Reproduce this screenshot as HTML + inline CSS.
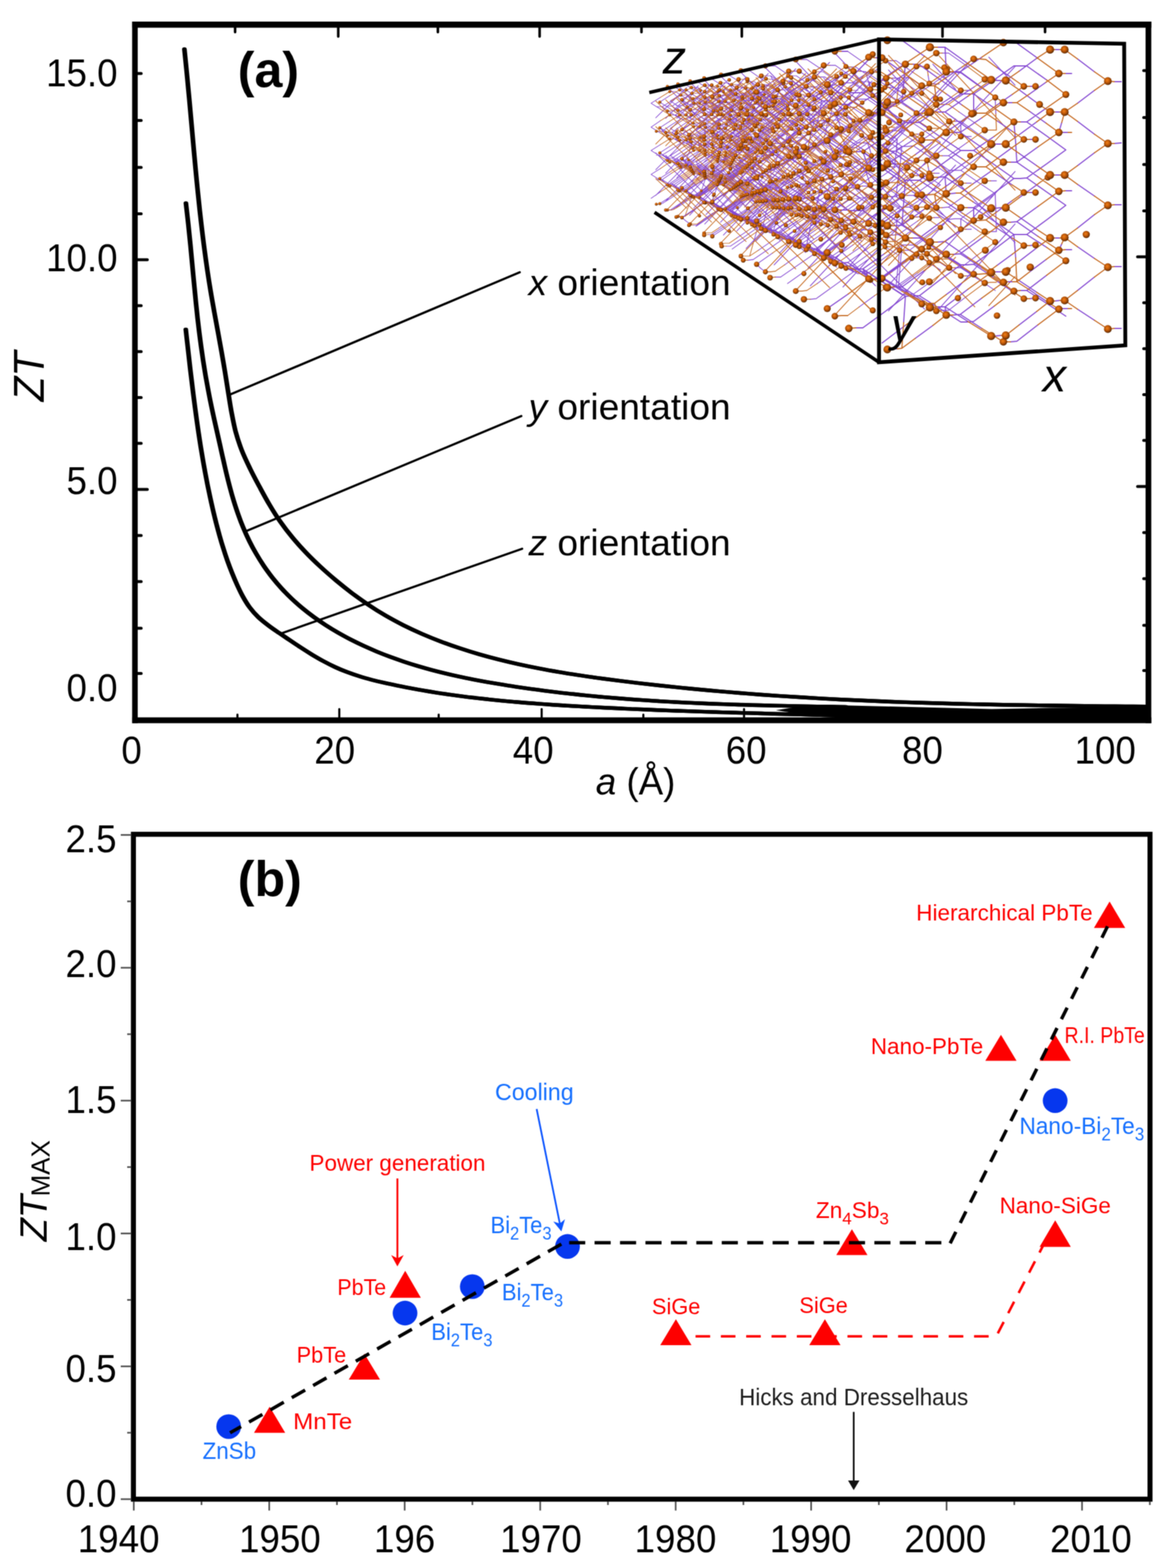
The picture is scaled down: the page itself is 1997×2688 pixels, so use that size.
<!DOCTYPE html>
<html lang="en">
<head>
<meta charset="utf-8">
<title>ZT figure</title>
<style>
html,body{margin:0;padding:0;background:#fff;}
body{width:1997px;height:2688px;overflow:hidden;}
svg{display:block;}
text{font-family:'Liberation Sans', sans-serif;}
</style>
</head>
<body>
<svg width="1997" height="2688" viewBox="0 0 1997 2688">
<defs><filter id="soft" filterUnits="userSpaceOnUse" x="0" y="0" width="1997" height="2688" color-interpolation-filters="sRGB"><feConvolveMatrix order="3" kernelMatrix="1 2 1 2 4 2 1 2 1" divisor="16" edgeMode="duplicate" preserveAlpha="true"/></filter></defs>
<g filter="url(#soft)">
<rect x="0" y="0" width="1997" height="2688" fill="#ffffff"/>
<g id="plot-a">
<g id="a-frame" fill="none" stroke="#000000">
<line x1="231.3" y1="36.9" x2="231.3" y2="1239.8" stroke-width="9.6"/>
<line x1="1968.6" y1="36.9" x2="1968.6" y2="1239.8" stroke-width="9.8"/>
<line x1="226.8" y1="42.2" x2="1973.5" y2="42.2" stroke-width="10.6"/>
<line x1="226.8" y1="1234.8" x2="1973.5" y2="1234.8" stroke-width="10"/>
</g>
<g id="a-ticks" stroke="#000000" stroke-width="5" stroke-linecap="round">
<line x1="231.3" y1="126.0" x2="242.0" y2="126.0"/>
<line x1="1968.6" y1="121.0" x2="1960.5" y2="121.0"/>
<line x1="231.3" y1="206.5" x2="242.0" y2="206.5"/>
<line x1="1968.6" y1="201.5" x2="1960.5" y2="201.5"/>
<line x1="231.3" y1="287.0" x2="242.0" y2="287.0"/>
<line x1="1968.6" y1="282.0" x2="1960.5" y2="282.0"/>
<line x1="231.3" y1="366.6" x2="242.0" y2="366.6"/>
<line x1="1968.6" y1="361.6" x2="1960.5" y2="361.6"/>
<line x1="231.3" y1="445.3" x2="252.5" y2="445.3"/>
<line x1="1968.6" y1="440.3" x2="1950.0" y2="440.3"/>
<line x1="231.3" y1="524.0" x2="242.0" y2="524.0"/>
<line x1="1968.6" y1="519.0" x2="1960.5" y2="519.0"/>
<line x1="231.3" y1="602.7" x2="242.0" y2="602.7"/>
<line x1="1968.6" y1="597.7" x2="1960.5" y2="597.7"/>
<line x1="231.3" y1="681.5" x2="242.0" y2="681.5"/>
<line x1="1968.6" y1="676.5" x2="1960.5" y2="676.5"/>
<line x1="231.3" y1="760.0" x2="242.0" y2="760.0"/>
<line x1="1968.6" y1="755.0" x2="1960.5" y2="755.0"/>
<line x1="231.3" y1="839.0" x2="252.5" y2="839.0"/>
<line x1="1968.6" y1="834.0" x2="1950.0" y2="834.0"/>
<line x1="231.3" y1="918.0" x2="242.0" y2="918.0"/>
<line x1="1968.6" y1="913.0" x2="1960.5" y2="913.0"/>
<line x1="231.3" y1="997.0" x2="242.0" y2="997.0"/>
<line x1="1968.6" y1="992.0" x2="1960.5" y2="992.0"/>
<line x1="231.3" y1="1077.0" x2="242.0" y2="1077.0"/>
<line x1="1968.6" y1="1072.0" x2="1960.5" y2="1072.0"/>
<line x1="231.3" y1="1154.5" x2="242.0" y2="1154.5"/>
<line x1="1968.6" y1="1149.5" x2="1960.5" y2="1149.5"/>
<line x1="403.0" y1="42.2" x2="403.0" y2="55.0" stroke-width="4.4"/>
<line x1="407.0" y1="1234.8" x2="407.0" y2="1225.0" stroke-width="3.6"/>
<line x1="579.8" y1="42.2" x2="579.8" y2="62.5" stroke-width="4.4"/>
<line x1="581.6" y1="1234.8" x2="581.6" y2="1215.5" stroke-width="3.6"/>
<line x1="750.6" y1="42.2" x2="750.6" y2="55.0" stroke-width="4.4"/>
<line x1="752.0" y1="1234.8" x2="752.0" y2="1225.0" stroke-width="3.6"/>
<line x1="925.0" y1="42.2" x2="925.0" y2="62.5" stroke-width="4.4"/>
<line x1="928.5" y1="1234.8" x2="928.5" y2="1215.5" stroke-width="3.6"/>
<line x1="1099.6" y1="42.2" x2="1099.6" y2="55.0" stroke-width="4.4"/>
<line x1="1102.8" y1="1234.8" x2="1102.8" y2="1225.0" stroke-width="3.6"/>
<line x1="1271.6" y1="42.2" x2="1271.6" y2="62.5" stroke-width="4.4"/>
<line x1="1275.4" y1="1234.8" x2="1275.4" y2="1215.5" stroke-width="3.6"/>
<line x1="1446.6" y1="42.2" x2="1446.6" y2="55.0" stroke-width="4.4"/>
<line x1="1449.0" y1="1234.8" x2="1449.0" y2="1225.0" stroke-width="3.6"/>
<line x1="1615.6" y1="42.2" x2="1615.6" y2="62.5" stroke-width="4.4"/>
<line x1="1620.0" y1="1234.8" x2="1620.0" y2="1215.5" stroke-width="3.6"/>
<line x1="1791.4" y1="42.2" x2="1791.4" y2="55.0" stroke-width="4.4"/>
<line x1="1794.0" y1="1234.8" x2="1794.0" y2="1225.0" stroke-width="3.6"/>
</g>
<g id="a-labels" font-size="63" fill="#000000">
<text transform="translate(201.5 148.0) scale(1 1.065)" text-anchor="end">15.0</text>
<text transform="translate(201.5 464.6) scale(1 1.065)" text-anchor="end">10.0</text>
<text transform="translate(201.5 846.6) scale(1 1.065)" text-anchor="end">5.0</text>
<text transform="translate(201.5 1202.2) scale(1 1.065)" text-anchor="end">0.0</text>
<text transform="translate(225.5 1308.7) scale(1 1.065)" text-anchor="middle">0</text>
<text transform="translate(573.8 1308.7) scale(1 1.065)" text-anchor="middle">20</text>
<text transform="translate(914.0 1308.7) scale(1 1.065)" text-anchor="middle">40</text>
<text transform="translate(1279.0 1308.7) scale(1 1.065)" text-anchor="middle">60</text>
<text transform="translate(1581.3 1308.7) scale(1 1.065)" text-anchor="middle">80</text>
<text transform="translate(1894.5 1308.7) scale(1 1.065)" text-anchor="middle">100</text>
<text transform="translate(1089.5 1362.3) scale(1 1.020)" text-anchor="middle"><tspan font-style="italic">a</tspan> (Å)</text>
<text transform="translate(75.4 645.5) rotate(-90) scale(1 1.065)" text-anchor="middle" font-style="italic" font-size="70">ZT</text>
<text transform="translate(906.0 506.2) scale(1 0.985)" font-size="63.6"><tspan font-style="italic">x</tspan> orientation</text>
<text transform="translate(906.0 718.7) scale(1 0.985)" font-size="63.6"><tspan font-style="italic">y</tspan> orientation</text>
<text transform="translate(906.0 951.6) scale(1 0.985)" font-size="63.6"><tspan font-style="italic">z</tspan> orientation</text>
<text transform="translate(407.5 149.0) scale(1 1.000)" font-weight="bold" font-size="86">(a)</text>
</g>
<g id="a-curves" fill="none" stroke="#000000" stroke-width="6.4" stroke-linecap="round" stroke-linejoin="round">
<path d="M316.1 84.4 C316.6 90.2 318.5 107.5 319.6 119.0 C320.8 130.5 321.8 142.1 322.9 153.6 C324.0 165.2 325.1 176.7 326.1 188.3 C327.1 199.8 328.2 211.4 329.2 222.9 C330.2 234.5 331.3 246.1 332.3 257.6 C333.4 269.2 334.4 280.8 335.5 292.3 C336.6 303.9 337.7 315.4 338.9 327.0 C340.1 338.5 341.3 350.1 342.5 361.6 C343.8 373.1 345.1 384.7 346.5 396.2 C347.9 407.7 349.3 419.2 350.9 430.7 C352.4 442.2 354.0 453.6 355.7 465.1 C357.4 476.6 359.2 488.0 361.1 499.4 C363.0 510.9 365.1 522.3 367.1 533.7 C369.2 545.1 371.3 556.5 373.4 567.9 C375.5 579.3 377.6 590.7 379.6 602.1 C381.6 613.6 383.6 625.0 385.5 636.5 C387.4 648.0 389.1 659.5 391.0 670.9 C392.8 682.4 394.5 693.9 396.6 705.3 C398.8 716.7 400.8 728.1 403.7 739.2 C406.7 750.3 410.3 761.2 414.4 771.9 C418.6 782.7 423.7 793.1 428.8 803.6 C433.8 814.0 439.4 824.3 444.9 834.6 C450.4 844.8 455.9 855.2 461.9 865.1 C467.8 875.1 473.9 885.0 480.6 894.4 C487.2 903.9 494.3 913.1 501.7 921.9 C509.1 930.8 516.9 939.4 524.9 947.7 C532.9 956.1 541.3 964.1 549.8 972.0 C558.3 979.9 567.1 987.5 576.0 995.0 C584.9 1002.4 594.0 1009.7 603.2 1016.7 C612.5 1023.6 621.9 1030.4 631.6 1036.8 C641.2 1043.3 651.0 1049.5 661.0 1055.3 C671.0 1061.1 681.3 1066.6 691.6 1071.9 C702.0 1077.1 712.6 1082.0 723.2 1086.6 C733.8 1091.2 744.6 1095.6 755.5 1099.7 C766.3 1103.8 777.3 1107.7 788.3 1111.3 C799.3 1115.0 810.3 1118.4 821.5 1121.6 C832.6 1124.8 843.7 1127.8 855.0 1130.7 C866.2 1133.5 877.5 1136.2 888.8 1138.7 C900.1 1141.2 911.4 1143.5 922.8 1145.7 C934.2 1147.9 945.6 1150.0 957.1 1151.9 C968.5 1153.9 980.0 1155.7 991.5 1157.4 C1002.9 1159.2 1014.5 1160.8 1026.0 1162.4 C1037.5 1164.0 1049.0 1165.4 1060.6 1166.9 C1072.1 1168.3 1083.6 1169.7 1095.2 1171.1 C1106.7 1172.4 1118.2 1173.7 1129.8 1175.0 C1141.3 1176.2 1152.8 1177.4 1164.4 1178.6 C1175.9 1179.8 1187.5 1180.9 1199.0 1182.0 C1210.5 1183.1 1222.1 1184.1 1233.6 1185.1 C1245.2 1186.1 1256.7 1187.1 1268.3 1188.0 C1279.8 1188.9 1291.4 1189.8 1302.9 1190.7 C1314.5 1191.5 1326.1 1192.3 1337.6 1193.1 C1349.2 1193.9 1360.8 1194.6 1372.3 1195.3 C1383.9 1196.1 1395.5 1196.7 1407.0 1197.4 C1418.6 1198.0 1430.2 1198.6 1441.8 1199.2 C1453.3 1199.8 1464.9 1200.3 1476.5 1200.8 C1488.1 1201.4 1499.7 1201.9 1511.3 1202.3 C1522.9 1202.8 1534.4 1203.2 1546.0 1203.6 C1557.6 1204.0 1569.2 1204.4 1580.8 1204.8 C1592.4 1205.2 1604.0 1205.5 1615.6 1205.8 C1627.2 1206.1 1638.8 1206.4 1650.4 1206.7 C1662.0 1207.0 1673.7 1207.3 1685.3 1207.5 C1696.9 1207.8 1708.5 1208.0 1720.1 1208.2 C1731.7 1208.4 1743.3 1208.6 1754.9 1208.8 C1766.5 1209.0 1778.1 1209.2 1789.7 1209.3 C1801.3 1209.5 1812.9 1209.6 1824.5 1209.8 C1836.1 1209.9 1847.7 1210.1 1859.3 1210.2 C1870.9 1210.3 1882.5 1210.4 1894.1 1210.6 C1905.7 1210.7 1917.2 1210.8 1928.8 1210.9 C1940.4 1211.0 1957.8 1211.2 1963.6 1211.2" transform="translate(-0.8 0)"/>
<path d="M316.1 84.4 C316.6 90.2 318.5 107.5 319.6 119.0 C320.8 130.5 321.8 142.1 322.9 153.6 C324.0 165.2 325.1 176.7 326.1 188.3 C327.1 199.8 328.2 211.4 329.2 222.9 C330.2 234.5 331.3 246.1 332.3 257.6 C333.4 269.2 334.4 280.8 335.5 292.3 C336.6 303.9 337.7 315.4 338.9 327.0 C340.1 338.5 341.3 350.1 342.5 361.6 C343.8 373.1 345.1 384.7 346.5 396.2 C347.9 407.7 349.3 419.2 350.9 430.7 C352.4 442.2 354.0 453.6 355.7 465.1 C357.4 476.6 359.2 488.0 361.1 499.4 C363.0 510.9 365.1 522.3 367.1 533.7 C369.2 545.1 371.3 556.5 373.4 567.9 C375.5 579.3 377.6 590.7 379.6 602.1 C381.6 613.6 383.6 625.0 385.5 636.5 C387.4 648.0 389.1 659.5 391.0 670.9 C392.8 682.4 394.5 693.9 396.6 705.3 C398.8 716.7 400.8 728.1 403.7 739.2 C406.7 750.3 410.3 761.2 414.4 771.9 C418.6 782.7 423.7 793.1 428.8 803.6 C433.8 814.0 439.4 824.3 444.9 834.6 C450.4 844.8 455.9 855.2 461.9 865.1 C467.8 875.1 473.9 885.0 480.6 894.4 C487.2 903.9 494.3 913.1 501.7 921.9 C509.1 930.8 516.9 939.4 524.9 947.7 C532.9 956.1 541.3 964.1 549.8 972.0 C558.3 979.9 567.1 987.5 576.0 995.0 C584.9 1002.4 594.0 1009.7 603.2 1016.7 C612.5 1023.6 621.9 1030.4 631.6 1036.8 C641.2 1043.3 651.0 1049.5 661.0 1055.3 C671.0 1061.1 681.3 1066.6 691.6 1071.9 C702.0 1077.1 712.6 1082.0 723.2 1086.6 C733.8 1091.2 744.6 1095.6 755.5 1099.7 C766.3 1103.8 777.3 1107.7 788.3 1111.3 C799.3 1115.0 810.3 1118.4 821.5 1121.6 C832.6 1124.8 843.7 1127.8 855.0 1130.7 C866.2 1133.5 877.5 1136.2 888.8 1138.7 C900.1 1141.2 911.4 1143.5 922.8 1145.7 C934.2 1147.9 945.6 1150.0 957.1 1151.9 C968.5 1153.9 980.0 1155.7 991.5 1157.4 C1002.9 1159.2 1014.5 1160.8 1026.0 1162.4 C1037.5 1164.0 1049.0 1165.4 1060.6 1166.9 C1072.1 1168.3 1083.6 1169.7 1095.2 1171.1 C1106.7 1172.4 1118.2 1173.7 1129.8 1175.0 C1141.3 1176.2 1152.8 1177.4 1164.4 1178.6 C1175.9 1179.8 1187.5 1180.9 1199.0 1182.0 C1210.5 1183.1 1222.1 1184.1 1233.6 1185.1 C1245.2 1186.1 1256.7 1187.1 1268.3 1188.0 C1279.8 1188.9 1291.4 1189.8 1302.9 1190.7 C1314.5 1191.5 1326.1 1192.3 1337.6 1193.1 C1349.2 1193.9 1360.8 1194.6 1372.3 1195.3 C1383.9 1196.1 1395.5 1196.7 1407.0 1197.4 C1418.6 1198.0 1430.2 1198.6 1441.8 1199.2 C1453.3 1199.8 1464.9 1200.3 1476.5 1200.8 C1488.1 1201.4 1499.7 1201.9 1511.3 1202.3 C1522.9 1202.8 1534.4 1203.2 1546.0 1203.6 C1557.6 1204.0 1569.2 1204.4 1580.8 1204.8 C1592.4 1205.2 1604.0 1205.5 1615.6 1205.8 C1627.2 1206.1 1638.8 1206.4 1650.4 1206.7 C1662.0 1207.0 1673.7 1207.3 1685.3 1207.5 C1696.9 1207.8 1708.5 1208.0 1720.1 1208.2 C1731.7 1208.4 1743.3 1208.6 1754.9 1208.8 C1766.5 1209.0 1778.1 1209.2 1789.7 1209.3 C1801.3 1209.5 1812.9 1209.6 1824.5 1209.8 C1836.1 1209.9 1847.7 1210.1 1859.3 1210.2 C1870.9 1210.3 1882.5 1210.4 1894.1 1210.6 C1905.7 1210.7 1917.2 1210.8 1928.8 1210.9 C1940.4 1211.0 1957.8 1211.2 1963.6 1211.2" transform="translate(0.8 0)"/>
<path d="M318.7 348.4 C319.1 352.5 320.6 364.7 321.5 372.9 C322.4 381.0 323.3 389.2 324.1 397.3 C325.0 405.5 325.8 413.7 326.6 421.9 C327.4 430.1 328.1 438.3 328.9 446.5 C329.7 454.6 330.4 462.8 331.2 471.0 C332.0 479.2 332.8 487.4 333.6 495.6 C334.4 503.8 335.2 512.0 336.0 520.2 C336.9 528.4 337.7 536.6 338.6 544.8 C339.6 552.9 340.5 561.1 341.5 569.3 C342.5 577.4 343.6 585.6 344.7 593.7 C345.8 601.8 347.0 609.9 348.2 618.0 C349.5 626.2 350.8 634.2 352.1 642.3 C353.5 650.4 355.0 658.5 356.5 666.5 C358.0 674.6 359.5 682.6 361.2 690.7 C362.8 698.7 364.6 706.7 366.3 714.7 C368.1 722.7 369.9 730.7 371.7 738.8 C373.5 746.8 375.3 754.8 377.1 762.8 C378.9 770.9 380.6 779.0 382.5 787.0 C384.3 795.0 386.1 803.1 388.0 811.1 C389.9 819.1 391.9 827.1 394.0 835.0 C396.1 843.0 398.3 850.9 400.7 858.8 C403.1 866.6 405.6 874.4 408.4 882.1 C411.1 889.9 414.0 897.5 417.2 905.1 C420.3 912.6 423.7 920.1 427.4 927.5 C431.0 934.8 434.9 942.1 439.1 949.2 C443.2 956.3 447.6 963.3 452.2 970.1 C456.8 976.9 461.7 983.5 466.7 990.0 C471.8 996.4 477.1 1002.7 482.7 1008.7 C488.2 1014.8 494.0 1020.6 499.9 1026.2 C505.9 1031.9 512.0 1037.3 518.3 1042.5 C524.7 1047.8 531.2 1052.8 537.8 1057.6 C544.5 1062.5 551.3 1067.1 558.2 1071.6 C565.2 1076.1 572.2 1080.4 579.4 1084.5 C586.6 1088.6 593.8 1092.6 601.2 1096.4 C608.5 1100.1 615.9 1103.7 623.4 1107.2 C630.9 1110.6 638.4 1113.9 646.0 1117.1 C653.6 1120.2 661.3 1123.2 668.9 1126.1 C676.6 1128.9 684.4 1131.6 692.1 1134.2 C699.9 1136.8 707.7 1139.3 715.6 1141.6 C723.5 1143.9 731.4 1146.2 739.3 1148.3 C747.2 1150.4 755.2 1152.4 763.2 1154.3 C771.2 1156.3 779.2 1158.1 787.2 1159.8 C795.3 1161.6 803.3 1163.2 811.4 1164.8 C819.5 1166.4 827.6 1167.9 835.7 1169.3 C843.8 1170.7 851.9 1172.1 860.1 1173.4 C868.2 1174.8 876.3 1176.0 884.5 1177.3 C892.6 1178.5 900.7 1179.7 908.9 1180.8 C917.0 1181.9 925.2 1183.0 933.3 1184.1 C941.5 1185.1 949.6 1186.1 957.8 1187.1 C966.0 1188.0 974.1 1189.0 982.3 1189.8 C990.5 1190.7 998.6 1191.6 1006.8 1192.4 C1015.0 1193.2 1023.2 1194.0 1031.3 1194.7 C1039.5 1195.4 1047.7 1196.1 1055.9 1196.8 C1064.1 1197.5 1072.3 1198.1 1080.5 1198.7 C1088.7 1199.3 1096.9 1199.9 1105.0 1200.4 C1113.2 1201.0 1121.4 1201.5 1129.6 1202.0 C1137.8 1202.5 1146.0 1202.9 1154.3 1203.4 C1162.5 1203.8 1170.7 1204.2 1178.9 1204.6 C1187.1 1205.0 1195.3 1205.4 1203.5 1205.7 C1211.7 1206.1 1219.9 1206.4 1228.1 1206.7 C1236.3 1207.0 1244.6 1207.3 1252.8 1207.6 C1261.0 1207.8 1269.2 1208.1 1277.4 1208.3 C1285.6 1208.6 1293.9 1208.8 1302.1 1209.0 C1310.3 1209.2 1318.5 1209.4 1326.7 1209.6 C1335.0 1209.8 1343.2 1210.0 1351.4 1210.1 C1359.6 1210.3 1367.8 1210.5 1376.1 1210.6 C1384.3 1210.8 1392.5 1210.9 1400.7 1211.1 C1408.9 1211.2 1417.1 1211.3 1425.4 1211.5 C1433.6 1211.6 1445.9 1211.8 1450.0 1211.9" transform="translate(-0.8 0)"/>
<path d="M318.7 348.4 C319.1 352.5 320.6 364.7 321.5 372.9 C322.4 381.0 323.3 389.2 324.1 397.3 C325.0 405.5 325.8 413.7 326.6 421.9 C327.4 430.1 328.1 438.3 328.9 446.5 C329.7 454.6 330.4 462.8 331.2 471.0 C332.0 479.2 332.8 487.4 333.6 495.6 C334.4 503.8 335.2 512.0 336.0 520.2 C336.9 528.4 337.7 536.6 338.6 544.8 C339.6 552.9 340.5 561.1 341.5 569.3 C342.5 577.4 343.6 585.6 344.7 593.7 C345.8 601.8 347.0 609.9 348.2 618.0 C349.5 626.2 350.8 634.2 352.1 642.3 C353.5 650.4 355.0 658.5 356.5 666.5 C358.0 674.6 359.5 682.6 361.2 690.7 C362.8 698.7 364.6 706.7 366.3 714.7 C368.1 722.7 369.9 730.7 371.7 738.8 C373.5 746.8 375.3 754.8 377.1 762.8 C378.9 770.9 380.6 779.0 382.5 787.0 C384.3 795.0 386.1 803.1 388.0 811.1 C389.9 819.1 391.9 827.1 394.0 835.0 C396.1 843.0 398.3 850.9 400.7 858.8 C403.1 866.6 405.6 874.4 408.4 882.1 C411.1 889.9 414.0 897.5 417.2 905.1 C420.3 912.6 423.7 920.1 427.4 927.5 C431.0 934.8 434.9 942.1 439.1 949.2 C443.2 956.3 447.6 963.3 452.2 970.1 C456.8 976.9 461.7 983.5 466.7 990.0 C471.8 996.4 477.1 1002.7 482.7 1008.7 C488.2 1014.8 494.0 1020.6 499.9 1026.2 C505.9 1031.9 512.0 1037.3 518.3 1042.5 C524.7 1047.8 531.2 1052.8 537.8 1057.6 C544.5 1062.5 551.3 1067.1 558.2 1071.6 C565.2 1076.1 572.2 1080.4 579.4 1084.5 C586.6 1088.6 593.8 1092.6 601.2 1096.4 C608.5 1100.1 615.9 1103.7 623.4 1107.2 C630.9 1110.6 638.4 1113.9 646.0 1117.1 C653.6 1120.2 661.3 1123.2 668.9 1126.1 C676.6 1128.9 684.4 1131.6 692.1 1134.2 C699.9 1136.8 707.7 1139.3 715.6 1141.6 C723.5 1143.9 731.4 1146.2 739.3 1148.3 C747.2 1150.4 755.2 1152.4 763.2 1154.3 C771.2 1156.3 779.2 1158.1 787.2 1159.8 C795.3 1161.6 803.3 1163.2 811.4 1164.8 C819.5 1166.4 827.6 1167.9 835.7 1169.3 C843.8 1170.7 851.9 1172.1 860.1 1173.4 C868.2 1174.8 876.3 1176.0 884.5 1177.3 C892.6 1178.5 900.7 1179.7 908.9 1180.8 C917.0 1181.9 925.2 1183.0 933.3 1184.1 C941.5 1185.1 949.6 1186.1 957.8 1187.1 C966.0 1188.0 974.1 1189.0 982.3 1189.8 C990.5 1190.7 998.6 1191.6 1006.8 1192.4 C1015.0 1193.2 1023.2 1194.0 1031.3 1194.7 C1039.5 1195.4 1047.7 1196.1 1055.9 1196.8 C1064.1 1197.5 1072.3 1198.1 1080.5 1198.7 C1088.7 1199.3 1096.9 1199.9 1105.0 1200.4 C1113.2 1201.0 1121.4 1201.5 1129.6 1202.0 C1137.8 1202.5 1146.0 1202.9 1154.3 1203.4 C1162.5 1203.8 1170.7 1204.2 1178.9 1204.6 C1187.1 1205.0 1195.3 1205.4 1203.5 1205.7 C1211.7 1206.1 1219.9 1206.4 1228.1 1206.7 C1236.3 1207.0 1244.6 1207.3 1252.8 1207.6 C1261.0 1207.8 1269.2 1208.1 1277.4 1208.3 C1285.6 1208.6 1293.9 1208.8 1302.1 1209.0 C1310.3 1209.2 1318.5 1209.4 1326.7 1209.6 C1335.0 1209.8 1343.2 1210.0 1351.4 1210.1 C1359.6 1210.3 1367.8 1210.5 1376.1 1210.6 C1384.3 1210.8 1392.5 1210.9 1400.7 1211.1 C1408.9 1211.2 1417.1 1211.3 1425.4 1211.5 C1433.6 1211.6 1445.9 1211.8 1450.0 1211.9" transform="translate(0.8 0)"/>
<path d="M318.5 565.0 C318.9 568.7 320.1 579.9 321.0 587.3 C321.8 594.7 322.6 602.1 323.5 609.5 C324.3 616.9 325.2 624.4 326.0 631.8 C326.9 639.2 327.8 646.6 328.7 654.0 C329.6 661.4 330.5 668.8 331.4 676.2 C332.3 683.6 333.3 691.0 334.3 698.4 C335.3 705.8 336.3 713.2 337.3 720.6 C338.3 728.0 339.4 735.4 340.5 742.8 C341.6 750.2 342.7 757.5 343.9 764.9 C345.1 772.3 346.3 779.6 347.6 787.0 C348.8 794.3 350.2 801.7 351.5 809.0 C352.9 816.3 354.3 823.6 355.7 831.0 C357.2 838.3 358.7 845.6 360.3 852.9 C361.9 860.2 363.5 867.4 365.2 874.7 C366.9 882.0 368.7 889.2 370.5 896.5 C372.4 903.7 374.3 911.0 376.3 918.1 C378.3 925.3 380.4 932.5 382.7 939.6 C384.9 946.8 387.2 953.8 389.7 960.9 C392.2 967.9 394.8 974.9 397.6 981.8 C400.4 988.8 403.3 995.7 406.4 1002.5 C409.5 1009.3 412.7 1016.1 416.3 1022.6 C419.9 1029.1 423.7 1035.5 428.1 1041.4 C432.5 1047.3 437.4 1052.8 442.7 1057.9 C448.0 1063.0 454.0 1067.6 460.0 1072.1 C465.9 1076.7 472.3 1080.9 478.6 1085.2 C484.8 1089.4 491.1 1093.7 497.4 1097.9 C503.6 1102.1 509.9 1106.3 516.2 1110.4 C522.5 1114.5 528.8 1118.5 535.2 1122.4 C541.6 1126.2 548.0 1130.0 554.5 1133.5 C561.0 1137.0 567.6 1140.4 574.3 1143.5 C581.0 1146.6 587.9 1149.5 594.8 1152.1 C601.7 1154.7 608.8 1157.1 615.9 1159.3 C623.0 1161.6 630.2 1163.6 637.4 1165.5 C644.7 1167.4 652.0 1169.1 659.3 1170.7 C666.6 1172.4 673.9 1173.9 681.3 1175.4 C688.6 1176.9 696.0 1178.4 703.4 1179.7 C710.7 1181.1 718.1 1182.4 725.4 1183.7 C732.8 1185.0 740.2 1186.2 747.6 1187.3 C755.0 1188.5 762.3 1189.6 769.7 1190.6 C777.1 1191.7 784.5 1192.7 791.9 1193.6 C799.3 1194.6 806.7 1195.5 814.1 1196.3 C821.5 1197.2 828.9 1198.0 836.4 1198.8 C843.8 1199.6 851.2 1200.4 858.6 1201.1 C866.0 1201.8 873.5 1202.5 880.9 1203.1 C888.3 1203.8 895.7 1204.4 903.2 1205.0 C910.6 1205.5 918.1 1206.1 925.5 1206.6 C932.9 1207.2 940.4 1207.7 947.8 1208.2 C955.3 1208.7 962.7 1209.1 970.1 1209.6 C977.6 1210.0 985.0 1210.5 992.5 1210.9 C999.9 1211.3 1007.4 1211.7 1014.8 1212.1 C1022.3 1212.5 1029.8 1212.9 1037.2 1213.3 C1044.7 1213.6 1052.1 1214.0 1059.6 1214.3 C1067.0 1214.7 1074.5 1215.0 1081.9 1215.4 C1089.4 1215.7 1096.9 1216.0 1104.3 1216.3 C1111.8 1216.6 1119.2 1216.9 1126.7 1217.2 C1134.1 1217.5 1141.6 1217.8 1149.1 1218.1 C1156.5 1218.3 1164.0 1218.6 1171.4 1218.9 C1178.9 1219.1 1186.4 1219.4 1193.8 1219.6 C1201.3 1219.9 1208.8 1220.1 1216.2 1220.4 C1223.7 1220.6 1231.1 1220.8 1238.6 1221.1 C1246.1 1221.3 1253.5 1221.5 1261.0 1221.7 C1268.5 1222.0 1275.9 1222.2 1283.4 1222.4 C1290.8 1222.6 1298.3 1222.8 1305.8 1223.0 C1313.2 1223.2 1320.7 1223.5 1328.1 1223.7 C1335.6 1223.9 1343.1 1224.1 1350.5 1224.3 C1358.0 1224.5 1365.4 1224.7 1372.9 1224.9 C1380.3 1225.1 1387.8 1225.3 1395.3 1225.5 C1402.7 1225.7 1410.2 1225.9 1417.6 1226.1 C1425.1 1226.4 1436.3 1226.7 1440.0 1226.8" transform="translate(-0.8 0)"/>
<path d="M318.5 565.0 C318.9 568.7 320.1 579.9 321.0 587.3 C321.8 594.7 322.6 602.1 323.5 609.5 C324.3 616.9 325.2 624.4 326.0 631.8 C326.9 639.2 327.8 646.6 328.7 654.0 C329.6 661.4 330.5 668.8 331.4 676.2 C332.3 683.6 333.3 691.0 334.3 698.4 C335.3 705.8 336.3 713.2 337.3 720.6 C338.3 728.0 339.4 735.4 340.5 742.8 C341.6 750.2 342.7 757.5 343.9 764.9 C345.1 772.3 346.3 779.6 347.6 787.0 C348.8 794.3 350.2 801.7 351.5 809.0 C352.9 816.3 354.3 823.6 355.7 831.0 C357.2 838.3 358.7 845.6 360.3 852.9 C361.9 860.2 363.5 867.4 365.2 874.7 C366.9 882.0 368.7 889.2 370.5 896.5 C372.4 903.7 374.3 911.0 376.3 918.1 C378.3 925.3 380.4 932.5 382.7 939.6 C384.9 946.8 387.2 953.8 389.7 960.9 C392.2 967.9 394.8 974.9 397.6 981.8 C400.4 988.8 403.3 995.7 406.4 1002.5 C409.5 1009.3 412.7 1016.1 416.3 1022.6 C419.9 1029.1 423.7 1035.5 428.1 1041.4 C432.5 1047.3 437.4 1052.8 442.7 1057.9 C448.0 1063.0 454.0 1067.6 460.0 1072.1 C465.9 1076.7 472.3 1080.9 478.6 1085.2 C484.8 1089.4 491.1 1093.7 497.4 1097.9 C503.6 1102.1 509.9 1106.3 516.2 1110.4 C522.5 1114.5 528.8 1118.5 535.2 1122.4 C541.6 1126.2 548.0 1130.0 554.5 1133.5 C561.0 1137.0 567.6 1140.4 574.3 1143.5 C581.0 1146.6 587.9 1149.5 594.8 1152.1 C601.7 1154.7 608.8 1157.1 615.9 1159.3 C623.0 1161.6 630.2 1163.6 637.4 1165.5 C644.7 1167.4 652.0 1169.1 659.3 1170.7 C666.6 1172.4 673.9 1173.9 681.3 1175.4 C688.6 1176.9 696.0 1178.4 703.4 1179.7 C710.7 1181.1 718.1 1182.4 725.4 1183.7 C732.8 1185.0 740.2 1186.2 747.6 1187.3 C755.0 1188.5 762.3 1189.6 769.7 1190.6 C777.1 1191.7 784.5 1192.7 791.9 1193.6 C799.3 1194.6 806.7 1195.5 814.1 1196.3 C821.5 1197.2 828.9 1198.0 836.4 1198.8 C843.8 1199.6 851.2 1200.4 858.6 1201.1 C866.0 1201.8 873.5 1202.5 880.9 1203.1 C888.3 1203.8 895.7 1204.4 903.2 1205.0 C910.6 1205.5 918.1 1206.1 925.5 1206.6 C932.9 1207.2 940.4 1207.7 947.8 1208.2 C955.3 1208.7 962.7 1209.1 970.1 1209.6 C977.6 1210.0 985.0 1210.5 992.5 1210.9 C999.9 1211.3 1007.4 1211.7 1014.8 1212.1 C1022.3 1212.5 1029.8 1212.9 1037.2 1213.3 C1044.7 1213.6 1052.1 1214.0 1059.6 1214.3 C1067.0 1214.7 1074.5 1215.0 1081.9 1215.4 C1089.4 1215.7 1096.9 1216.0 1104.3 1216.3 C1111.8 1216.6 1119.2 1216.9 1126.7 1217.2 C1134.1 1217.5 1141.6 1217.8 1149.1 1218.1 C1156.5 1218.3 1164.0 1218.6 1171.4 1218.9 C1178.9 1219.1 1186.4 1219.4 1193.8 1219.6 C1201.3 1219.9 1208.8 1220.1 1216.2 1220.4 C1223.7 1220.6 1231.1 1220.8 1238.6 1221.1 C1246.1 1221.3 1253.5 1221.5 1261.0 1221.7 C1268.5 1222.0 1275.9 1222.2 1283.4 1222.4 C1290.8 1222.6 1298.3 1222.8 1305.8 1223.0 C1313.2 1223.2 1320.7 1223.5 1328.1 1223.7 C1335.6 1223.9 1343.1 1224.1 1350.5 1224.3 C1358.0 1224.5 1365.4 1224.7 1372.9 1224.9 C1380.3 1225.1 1387.8 1225.3 1395.3 1225.5 C1402.7 1225.7 1410.2 1225.9 1417.6 1226.1 C1425.1 1226.4 1436.3 1226.7 1440.0 1226.8" transform="translate(0.8 0)"/>
</g>
<path d="M1330 1217.5 L1362 1212.5 L1400 1208 L1542 1211.5 L1700 1215.5 L1800 1213.5 L1968 1212 L1968 1236 L1440 1236 L1440 1230 L1405 1229 L1362 1222.5 Z" fill="#000000"/>
<g id="a-leaders" stroke="#000000" stroke-width="3.8" stroke-linecap="round">
<line x1="394" y1="676.6" x2="890.9" y2="466.7"/>
<line x1="419.5" y1="911.5" x2="893.6" y2="713.3"/>
<line x1="481.7" y1="1086" x2="895" y2="940.7"/>
</g>
</g>
<g id="crystal">
<defs><radialGradient id="atomg" cx="0.42" cy="0.40" r="0.62"><stop offset="0" stop-color="#f28118"/><stop offset="0.4" stop-color="#c95f0a"/><stop offset="0.75" stop-color="#8f4005"/><stop offset="1" stop-color="#4a2204"/></radialGradient><clipPath id="cclip"><path d="M1100 30 H1935 V640 H1100 Z"/></clipPath></defs>
<g clip-path="url(#cclip)">
<g fill="none" stroke-linecap="round">
<path stroke="#8549d2" stroke-width="1.1" d="M1331 155L1346 165M1363 172L1369 172M1346 179L1331 189M1331 204L1346 214M1363 221L1369 221M1346 228L1331 238M1331 253L1346 263M1363 270L1369 270M1346 278L1331 288M1331 302L1346 312M1363 319L1369 319M1346 327L1331 337M1331 351L1346 361M1363 368L1369 368M1276 229L1281 237M1276 327L1281 333M1189 140L1195 140M1195 140L1214 152M1287 140L1293 140M1293 140L1311 153M1263 152L1245 164M1239 164L1245 164M1245 164L1263 176M1214 176L1195 188M1335 165L1341 165M1319 172L1304 181M1189 188L1195 188M1195 188L1214 201M1304 196L1319 205M1263 201L1245 213M1239 213L1245 213M1245 213L1263 225M1221 220L1206 230M1311 225L1293 237M1206 245L1221 254M1287 237L1293 237M1293 237L1311 249M1270 244L1256 254M1256 268L1270 278M1214 274L1195 286M1335 260L1341 260M1311 273L1293 285M1189 286L1195 286M1195 286L1214 298M1287 285L1293 285M1293 285L1311 297M1263 297L1245 310M1239 310L1245 310M1245 310L1263 322M1214 323L1195 335M1335 308L1341 308M1319 316L1304 326M1189 335L1195 335M1195 335L1214 347M1304 340L1319 349M1263 346L1245 358M1239 358L1245 358M1245 358L1263 370M1221 366L1206 376M1311 369L1293 381M1287 381L1293 381M1160 203L1220 143M1160 271L1270 380M1160 305L1319 144M1160 356L1359 153M1184 142L1359 319M1235 381L1359 252M1285 379L1359 301M1334 144L1359 170M1245 213L1250 197M1250 197L1256 181M1341 260L1346 244M1346 244L1350 228M1245 310L1250 293M1250 293L1256 275M1346 338L1350 321M1214 157L1220 157M1220 157L1238 169M1238 169L1256 181M1190 169L1171 181M1303 158L1309 158M1309 158L1315 158M1315 158L1332 170M1303 158L1285 169M1285 169L1268 181M1159 181L1165 181M1165 181L1171 181M1171 181L1190 193M1190 193L1208 205M1256 181L1262 181M1262 181L1268 181M1268 181L1285 193M1256 181L1238 193M1238 193L1220 205M1332 193L1315 205M1208 205L1214 205M1214 205L1220 205M1220 205L1238 216M1238 216L1256 228M1208 205L1190 217M1190 217L1171 229M1309 205L1315 205M1315 205L1332 216M1332 216L1350 228M1285 216L1268 228M1165 229L1171 229M1171 229L1190 240M1190 240L1208 252M1256 228L1262 228M1262 228L1268 228M1268 228L1285 240M1285 240L1303 251M1256 228L1238 240M1238 240L1220 252M1350 228L1332 239M1332 239L1315 251M1208 252L1214 252M1214 252L1220 252M1220 252L1238 264M1208 252L1190 264M1190 264L1171 276M1303 251L1309 251M1309 251L1315 251M1315 251L1332 263M1332 263L1350 274M1303 251L1285 263M1285 263L1268 275M1159 276L1165 276M1165 276L1171 276M1171 276L1190 288M1262 275L1268 275M1268 275L1285 287M1285 287L1303 298M1238 287L1220 299M1350 274L1332 286M1332 286L1315 298M1214 300L1220 299M1220 299L1238 311M1238 311L1256 322M1190 312L1171 324M1303 298L1309 298M1309 298L1315 298M1315 298L1332 309M1303 298L1285 310M1285 310L1268 322M1159 324L1165 324M1165 324L1171 324M1171 324L1190 336M1190 336L1208 347M1256 322L1262 322M1262 322L1268 322M1268 322L1285 334M1256 322L1238 335M1238 335L1220 347M1332 333L1315 345M1208 347L1214 347M1214 347L1220 347M1220 347L1238 358M1238 358L1256 370M1208 347L1190 359M1190 359L1171 372M1309 345L1315 345M1315 345L1332 356M1332 356L1350 367M1285 357L1268 369M1165 372L1171 372M1256 370L1262 369M1262 369L1268 369M1315 158L1319 166M1319 166L1324 174M1220 205L1226 212M1226 212L1232 220M1315 251L1319 258M1319 258L1324 265M1220 299L1226 306M1226 306L1232 312M1315 345L1319 350M1319 350L1324 356M1190 150L1196 150M1196 150L1214 162M1167 162L1149 173M1300 158L1314 167M1268 158L1254 167M1149 173L1167 185M1254 181L1268 190M1214 185L1196 197M1329 174L1335 174M1314 181L1300 190M1190 197L1196 197M1196 197L1214 208M1167 208L1149 220M1300 204L1314 213M1268 204L1254 213M1149 220L1167 232M1254 227L1268 236M1214 231L1196 243M1329 220L1335 220M1314 226L1300 236M1190 243L1196 243M1196 243L1214 255M1167 255L1149 267M1300 249L1314 258M1268 250L1254 259M1149 267L1167 278M1254 273L1268 282M1214 278L1196 290M1329 265L1335 265M1314 272L1300 281M1190 290L1196 290M1196 290L1214 301M1167 302L1149 314M1300 295L1314 304M1268 295L1254 305M1149 314L1167 325M1254 319L1268 328M1214 324L1196 336M1329 310L1335 310M1314 318L1300 327M1190 336L1196 336M1196 336L1214 347M1167 348L1149 360M1300 341L1314 349M1268 341L1254 351M1329 356L1335 356M1196 150L1202 159M1202 159L1208 167M1294 204L1299 212M1196 243L1202 250M1202 250L1208 257M1294 295L1299 301M1196 336L1202 342M1202 342L1208 347M1168 144L1174 144M1174 144L1191 155M1260 145L1265 145M1265 145L1282 156M1237 156L1220 167M1214 167L1220 167M1220 167L1237 178M1191 178L1174 189M1304 167L1310 167M1289 174L1275 183M1168 189L1174 189M1174 189L1191 201M1275 196L1289 205M1237 201L1220 212M1214 212L1220 212M1220 212L1237 223M1198 219L1184 228M1282 223L1265 234M1184 241L1198 250M1260 234L1265 234M1265 234L1282 245M1244 241L1230 250M1230 264L1244 272M1191 269L1174 280M1304 256L1310 256M1282 268L1265 279M1168 280L1174 280M1174 280L1191 291M1260 279L1265 279M1265 279L1282 290M1237 291L1220 302M1214 302L1220 302M1220 302L1237 313M1191 314L1174 325M1304 301L1310 301M1289 308L1275 317M1168 326L1174 325M1174 325L1191 336M1275 330L1289 339M1237 335L1220 347M1214 347L1220 347M1220 347L1237 358M1198 354L1184 364M1282 357L1265 368M1260 369L1265 368M1141 203L1197 147M1141 266L1243 367M1141 297L1290 148M1141 345L1327 156M1163 147L1327 311M1210 368L1327 248M1257 367L1327 294M1303 148L1327 172M1174 189L1180 175M1180 175L1186 160M1265 234L1270 219M1270 219L1275 204M1174 280L1180 264M1180 264L1186 248M1270 308L1275 291M1180 354L1186 337M1192 160L1197 160M1197 160L1214 171M1214 171L1231 182M1169 171L1152 182M1275 161L1281 161M1281 161L1286 161M1286 161L1302 172M1275 161L1259 171M1259 171L1242 182M1141 182L1146 182M1146 182L1152 182M1152 182L1169 193M1169 193L1186 204M1231 182L1236 182M1236 182L1242 182M1242 182L1259 193M1231 182L1214 193M1214 193L1197 204M1302 193L1286 204M1186 204L1192 204M1192 204L1197 204M1197 204L1214 215M1214 215L1231 226M1186 204L1169 215M1169 215L1152 227M1281 204L1286 204M1286 204L1302 215M1302 215L1319 226M1259 215L1242 226M1146 227L1152 227M1152 227L1169 237M1169 237L1186 248M1231 226L1236 226M1236 226L1242 226M1242 226L1259 237M1259 237L1275 248M1231 226L1214 237M1214 237L1197 248M1319 226L1302 237M1302 237L1286 248M1186 248L1192 248M1192 248L1197 248M1197 248L1214 259M1186 248L1169 260M1169 260L1152 271M1275 248L1281 248M1281 248L1286 248M1286 248L1302 258M1302 258L1319 269M1275 248L1259 259M1259 259L1242 270M1141 271L1146 271M1146 271L1152 271M1152 271L1169 282M1236 270L1242 270M1242 270L1259 281M1259 281L1275 291M1214 281L1197 293M1319 269L1302 280M1302 280L1286 291M1192 293L1197 293M1197 293L1214 303M1214 303L1231 314M1169 304L1152 315M1275 291L1281 291M1281 291L1286 291M1286 291L1302 302M1275 291L1259 303M1259 303L1242 314M1141 316L1146 315M1146 315L1152 315M1152 315L1169 326M1169 326L1186 337M1231 314L1236 314M1236 314L1242 314M1242 314L1259 324M1231 314L1214 325M1214 325L1197 337M1302 324L1286 335M1186 337L1192 337M1192 337L1197 337M1197 337L1214 347M1214 347L1231 358M1186 337L1169 348M1169 348L1152 360M1281 335L1286 335M1286 335L1302 345M1302 345L1319 356M1259 346L1242 358M1146 360L1152 360M1231 358L1236 358M1236 358L1242 358M1242 182L1247 190M1247 190L1252 197M1152 227L1158 233M1158 233L1165 240M1242 270L1247 276M1247 276L1252 282M1152 315L1158 321M1158 321L1165 327M1170 154L1176 154M1176 154L1192 165M1148 164L1131 175M1273 161L1285 169M1242 161L1229 169M1131 175L1148 186M1229 182L1242 191M1192 186L1176 197M1300 176L1306 176M1285 182L1273 191M1170 197L1176 197M1176 197L1192 208M1148 208L1131 219M1273 203L1285 212M1242 203L1229 212M1131 219L1148 229M1229 225L1242 233M1192 229L1176 240M1300 218L1306 218M1285 225L1273 233M1170 240L1176 240M1176 240L1192 251M1148 251L1131 262M1273 246L1285 254M1242 246L1229 255M1131 262L1148 273M1229 268L1242 276M1192 272L1176 283M1300 261L1306 261M1285 267L1273 276M1170 284L1176 283M1176 283L1192 294M1148 295L1131 306M1273 289L1285 297M1242 289L1229 298M1131 306L1148 316M1229 311L1242 319M1192 316L1176 327M1300 303L1306 303M1285 310L1273 318M1170 327L1176 327M1176 327L1192 337M1148 338L1131 349M1273 331L1285 339M1242 332L1229 341M1300 346L1306 345M1225 183L1230 190M1131 219L1138 226M1138 226L1144 232M1225 268L1230 274M1131 306L1138 312M1138 312L1144 317M1225 352L1230 358M1150 148L1155 148M1155 148L1171 158M1235 148L1241 148M1241 148L1257 159M1214 159L1198 169M1193 169L1198 169M1198 169L1214 180M1171 179L1155 190M1278 169L1283 169M1263 176L1250 184M1150 190L1155 190M1155 190L1171 201M1250 196L1263 205M1214 201L1198 211M1193 211L1198 211M1198 211L1214 222M1178 217L1165 226M1257 221L1241 232M1165 239L1178 247M1235 232L1241 232M1241 232L1257 242M1221 238L1208 247M1208 259L1221 268M1171 264L1155 275M1278 253L1283 252M1257 263L1241 274M1150 275L1155 275M1155 275L1171 285M1235 274L1241 274M1241 274L1257 284M1214 285L1198 295M1193 295L1198 295M1198 295L1214 306M1171 306L1155 317M1278 294L1283 294M1263 301L1250 309M1150 317L1155 317M1155 317L1171 327M1250 322L1263 330M1214 327L1198 337M1193 337L1198 337M1198 337L1214 348M1178 344L1165 353M1257 347L1241 357M1235 358L1241 357M1124 202L1177 150M1124 262L1220 356M1124 291L1264 151M1124 335L1299 159M1145 150L1299 304M1189 357L1299 245M1233 356L1299 288M1276 151L1299 174M1287 197L1292 184M1204 239L1209 225M1283 294L1287 279M1287 279L1292 265M1198 337L1204 322M1204 322L1209 307M1172 163L1177 163M1177 163L1193 173M1193 173L1209 183M1151 173L1135 183M1251 163L1256 163M1256 163L1261 163M1261 163L1276 173M1251 163L1235 173M1235 173L1219 183M1125 183L1130 183M1130 183L1135 183M1135 183L1151 194M1151 194L1167 204M1209 183L1214 183M1214 183L1219 183M1219 183L1235 194M1209 183L1193 194M1193 194L1177 204M1276 194L1261 204M1167 204L1172 204M1172 204L1177 204M1177 204L1193 214M1193 214L1209 225M1167 204L1151 214M1151 214L1135 225M1256 204L1261 204M1261 204L1276 214M1276 214L1292 224M1235 214L1219 224M1130 225L1135 225M1135 225L1151 235M1151 235L1167 245M1209 225L1214 224M1214 224L1219 224M1219 224L1235 235M1235 235L1251 245M1209 225L1193 235M1193 235L1177 245M1292 224L1276 234M1276 234L1261 245M1167 245L1172 245M1172 245L1177 245M1177 245L1193 255M1167 245L1151 256M1151 256L1135 266M1251 245L1256 245M1256 245L1261 245M1261 245L1276 255M1276 255L1292 265M1251 245L1235 255M1235 255L1219 265M1125 266L1130 266M1130 266L1135 266M1135 266L1151 276M1214 266L1219 265M1219 265L1235 276M1235 276L1251 286M1193 276L1177 287M1292 265L1276 275M1276 275L1261 285M1172 287L1177 287M1177 287L1193 297M1193 297L1209 307M1151 297L1135 308M1251 286L1256 286M1256 286L1261 285M1261 285L1276 295M1251 286L1235 296M1235 296L1219 306M1125 308L1130 308M1130 308L1135 308M1135 308L1151 318M1151 318L1167 328M1209 307L1214 307M1214 307L1219 306M1219 306L1235 316M1209 307L1193 317M1193 317L1177 328M1276 316L1261 326M1167 328L1172 328M1172 328L1177 328M1177 328L1193 338M1193 338L1209 348M1167 328L1151 339M1151 339L1135 349M1256 326L1261 326M1261 326L1276 336M1276 336L1292 346M1235 337L1219 348M1130 350L1135 349M1209 348L1214 348M1214 348L1219 348M1177 163L1183 170M1183 170L1189 177M1261 204L1265 211M1265 211L1270 217M1177 245L1183 251M1183 251L1189 258M1261 285L1265 291M1265 291L1270 297M1177 328L1183 333M1183 333L1189 338M1153 157L1158 157M1158 157L1173 167M1132 167L1116 177M1249 163L1261 171M1220 163L1208 171M1116 177L1132 187M1208 183L1220 191M1173 187L1158 197M1275 177L1280 177M1261 183L1249 191M1153 197L1158 197M1158 197L1173 207M1132 207L1116 218M1249 203L1261 211M1220 203L1208 211M1116 218L1132 228M1208 223L1220 231M1173 227L1158 238M1275 217L1280 217M1261 223L1249 231M1153 238L1158 238M1158 238L1173 248M1132 248L1116 258M1249 243L1261 251M1220 243L1208 251M1116 258L1132 268M1208 263L1220 271M1173 268L1158 278M1275 257L1280 257M1261 263L1249 271M1153 278L1158 278M1158 278L1173 288M1132 289L1116 299M1249 283L1261 291M1220 283L1208 292M1116 299L1132 309M1208 304L1220 311M1173 308L1158 319M1275 297L1280 297M1261 303L1249 311M1153 319L1158 319M1158 319L1173 328M1132 329L1116 340M1249 323L1261 331M1220 324L1208 332M1275 336L1280 336"/>
<path stroke="#c66a22" stroke-width="1.1" d="M1320 147L1331 155M1346 165L1357 172M1357 172L1363 172M1357 172L1346 179M1331 189L1320 197M1320 197L1331 204M1346 214L1357 221M1357 221L1363 221M1357 221L1346 228M1331 238L1320 246M1320 246L1331 253M1346 263L1357 270M1357 270L1363 270M1357 270L1346 278M1331 288L1320 295M1320 295L1331 302M1346 312L1357 319M1357 319L1363 319M1357 319L1346 327M1331 337L1320 344M1320 344L1331 351M1346 361L1357 368M1357 368L1363 368M1270 221L1276 229M1270 321L1276 327M1183 139L1189 140M1214 152L1233 164M1281 140L1287 140M1311 153L1330 165M1281 140L1263 152M1233 164L1239 164M1263 176L1281 189M1233 164L1214 176M1330 165L1335 165M1330 165L1319 172M1304 181L1293 189M1183 188L1189 188M1214 201L1233 213M1281 189L1287 189M1287 189L1293 189M1293 189L1304 196M1319 205L1330 213M1281 189L1263 201M1233 213L1239 213M1263 225L1281 237M1233 213L1221 220M1206 230L1195 237M1330 213L1335 213M1335 213L1341 213M1330 213L1311 225M1183 237L1189 237M1189 237L1195 237M1195 237L1206 245M1221 254L1233 261M1281 237L1287 237M1311 249L1330 260M1281 237L1270 244M1256 254L1245 261M1233 261L1239 261M1239 261L1245 261M1245 261L1256 268M1270 278L1281 285M1233 261L1214 274M1330 260L1335 260M1330 260L1311 273M1183 286L1189 286M1214 298L1233 310M1281 285L1287 285M1311 297L1330 308M1281 285L1263 297M1233 310L1239 310M1263 322L1281 333M1233 310L1214 323M1330 308L1335 308M1330 308L1319 316M1304 326L1293 333M1183 335L1189 335M1214 347L1233 359M1281 333L1287 333M1287 333L1293 333M1293 333L1304 340M1319 349L1330 356M1281 333L1263 346M1233 359L1239 358M1263 370L1281 382M1233 359L1221 366M1206 376L1195 384M1330 356L1335 356M1335 356L1341 356M1330 356L1311 369M1183 384L1189 384M1189 384L1195 384M1281 382L1287 381M1160 322L1220 381M1160 254L1270 143M1160 220L1319 378M1160 169L1359 369M1184 382L1359 202M1235 143L1359 269M1285 143L1359 220M1334 378L1359 351M1341 356L1346 338M1208 157L1214 157M1208 157L1190 169M1332 170L1350 181M1285 193L1303 205M1350 181L1332 193M1303 205L1309 205M1303 205L1285 216M1159 229L1165 229M1238 264L1256 275M1190 288L1208 300M1256 275L1262 275M1256 275L1238 287M1208 300L1214 300M1208 300L1190 312M1332 309L1350 321M1285 334L1303 345M1350 321L1332 333M1303 345L1309 345M1303 345L1285 357M1159 372L1165 372M1185 150L1190 150M1214 162L1232 174M1185 150L1167 162M1278 151L1284 151M1284 151L1289 151M1289 151L1300 158M1314 167L1324 174M1278 151L1268 158M1254 167L1243 174M1167 185L1185 197M1232 174L1237 174M1237 174L1243 174M1243 174L1254 181M1268 190L1278 197M1232 174L1214 185M1324 174L1329 174M1324 174L1314 181M1300 190L1289 197M1185 197L1190 197M1214 208L1232 220M1185 197L1167 208M1278 197L1284 197M1284 197L1289 197M1289 197L1300 204M1314 213L1324 220M1278 197L1268 204M1254 213L1243 220M1167 232L1185 243M1232 220L1237 220M1237 220L1243 220M1243 220L1254 227M1268 236L1278 243M1232 220L1214 231M1324 220L1329 220M1324 220L1314 226M1300 236L1289 243M1185 243L1190 243M1214 255L1232 266M1185 243L1167 255M1278 243L1284 243M1284 243L1289 243M1289 243L1300 249M1314 258L1324 265M1278 243L1268 250M1254 259L1243 266M1167 278L1185 290M1232 266L1237 266M1237 266L1243 266M1243 266L1254 273M1268 282L1278 288M1232 266L1214 278M1324 265L1329 265M1324 265L1314 272M1300 281L1289 288M1185 290L1190 290M1214 301L1232 312M1185 290L1167 302M1278 288L1284 288M1284 288L1289 288M1289 288L1300 295M1314 304L1324 311M1278 288L1268 295M1254 305L1243 312M1167 325L1185 336M1232 312L1237 312M1237 312L1243 312M1243 312L1254 319M1268 328L1278 334M1232 312L1214 324M1324 311L1329 310M1324 311L1314 318M1300 327L1289 334M1185 336L1190 336M1214 347L1232 358M1185 336L1167 348M1278 334L1284 334M1284 334L1289 334M1289 334L1300 341M1314 349L1324 356M1278 334L1268 341M1254 351L1243 358M1232 358L1237 358M1237 358L1243 358M1324 356L1329 356M1289 197L1294 204M1289 288L1294 295M1162 144L1168 144M1191 155L1208 167M1254 145L1260 145M1282 156L1299 167M1254 145L1237 156M1208 167L1214 167M1237 178L1254 189M1208 167L1191 178M1299 167L1304 167M1299 167L1289 174M1275 183L1265 189M1162 189L1168 189M1191 201L1208 212M1254 189L1260 189M1260 189L1265 189M1265 189L1275 196M1289 205L1299 212M1254 189L1237 201M1208 212L1214 212M1237 223L1254 234M1208 212L1198 219M1184 228L1174 235M1299 212L1304 212M1304 212L1310 212M1299 212L1282 223M1162 235L1168 235M1168 235L1174 235M1174 235L1184 241M1198 250L1208 257M1254 234L1260 234M1282 245L1299 256M1254 234L1244 241M1230 250L1220 257M1208 257L1214 257M1214 257L1220 257M1220 257L1230 264M1244 272L1254 279M1208 257L1191 269M1299 256L1304 256M1299 256L1282 268M1162 280L1168 280M1191 291L1208 302M1254 279L1260 279M1282 290L1299 301M1254 279L1237 291M1208 302L1214 302M1237 313L1254 324M1208 302L1191 314M1299 301L1304 301M1299 301L1289 308M1275 317L1265 324M1162 326L1168 326M1191 336L1208 347M1254 324L1260 324M1260 324L1265 324M1265 324L1275 330M1289 339L1299 345M1254 324L1237 335M1208 347L1214 347M1237 358L1254 369M1208 347L1198 354M1184 364L1174 371M1299 345L1304 345M1304 345L1310 345M1299 345L1282 357M1162 371L1168 371M1168 371L1174 371M1254 369L1260 369M1141 314L1197 368M1141 250L1243 147M1141 219L1290 366M1141 171L1327 357M1163 369L1327 202M1210 147L1327 265M1257 147L1327 219M1303 366L1327 340M1265 324L1270 308M1174 371L1180 354M1186 160L1192 160M1186 160L1169 171M1302 172L1319 183M1259 193L1275 204M1319 183L1302 193M1275 204L1281 204M1275 204L1259 215M1141 227L1146 227M1214 259L1231 270M1169 282L1186 293M1231 270L1236 270M1231 270L1214 281M1186 293L1192 293M1186 293L1169 304M1302 302L1319 312M1259 324L1275 335M1319 312L1302 324M1275 335L1281 335M1275 335L1259 346M1141 360L1146 360M1165 154L1170 154M1192 165L1209 175M1165 154L1148 164M1252 154L1258 154M1258 154L1263 154M1263 154L1273 161M1285 169L1295 176M1252 154L1242 161M1229 169L1220 176M1148 186L1165 197M1209 175L1214 175M1214 175L1220 176M1220 176L1229 182M1242 191L1252 197M1209 175L1192 186M1295 176L1300 176M1295 176L1285 182M1273 191L1263 197M1165 197L1170 197M1192 208L1209 218M1165 197L1148 208M1252 197L1258 197M1258 197L1263 197M1263 197L1273 203M1285 212L1295 218M1252 197L1242 203M1229 212L1220 218M1148 229L1165 240M1209 218L1214 218M1214 218L1220 218M1220 218L1229 225M1242 233L1252 240M1209 218L1192 229M1295 218L1300 218M1295 218L1285 225M1273 233L1263 240M1165 240L1170 240M1192 251L1209 262M1165 240L1148 251M1252 240L1258 240M1258 240L1263 240M1263 240L1273 246M1285 254L1295 261M1252 240L1242 246M1229 255L1220 261M1148 273L1165 284M1209 262L1214 261M1214 261L1220 261M1220 261L1229 268M1242 276L1252 282M1209 262L1192 272M1295 261L1300 261M1295 261L1285 267M1273 276L1263 282M1165 284L1170 284M1192 294L1209 305M1165 284L1148 295M1252 282L1258 282M1258 282L1263 282M1263 282L1273 289M1285 297L1295 303M1252 282L1242 289M1229 298L1220 304M1148 316L1165 327M1209 305L1214 304M1214 304L1220 304M1220 304L1229 311M1242 319L1252 325M1209 305L1192 316M1295 303L1300 303M1295 303L1285 310M1273 318L1263 325M1165 327L1170 327M1192 337L1209 348M1165 327L1148 338M1252 325L1258 325M1258 325L1263 325M1263 325L1273 331M1285 339L1295 346M1252 325L1242 332M1229 341L1220 347M1209 348L1214 347M1214 347L1220 347M1295 346L1300 346M1220 176L1225 183M1220 261L1225 268M1220 347L1225 352M1144 148L1150 148M1171 158L1188 169M1230 148L1235 148M1257 159L1273 169M1230 148L1214 159M1188 169L1193 169M1214 180L1230 190M1188 169L1171 179M1273 169L1278 169M1273 169L1263 176M1250 184L1241 190M1144 190L1150 190M1171 201L1188 211M1230 190L1235 190M1235 190L1241 190M1241 190L1250 196M1263 205L1273 211M1230 190L1214 201M1188 211L1193 211M1214 222L1230 232M1188 211L1178 217M1165 226L1155 232M1273 211L1278 211M1278 211L1283 211M1273 211L1257 221M1144 232L1150 232M1150 232L1155 232M1155 232L1165 239M1178 247L1188 253M1230 232L1235 232M1257 242L1273 253M1230 232L1221 238M1208 247L1198 253M1188 253L1193 253M1193 253L1198 253M1198 253L1208 259M1221 268L1230 274M1188 253L1171 264M1273 253L1278 253M1273 253L1257 263M1144 275L1150 275M1171 285L1188 295M1230 274L1235 274M1257 284L1273 294M1230 274L1214 285M1188 295L1193 295M1214 306L1230 316M1188 295L1171 306M1273 294L1278 294M1273 294L1263 301M1250 309L1241 316M1144 317L1150 317M1171 327L1188 338M1230 316L1235 316M1235 316L1241 316M1241 316L1250 322M1263 330L1273 336M1230 316L1214 327M1188 338L1193 337M1214 348L1230 358M1188 338L1178 344M1165 353L1155 359M1273 336L1278 336M1278 336L1283 336M1273 336L1257 347M1144 360L1150 360M1150 360L1155 359M1230 358L1235 358M1124 306L1177 357M1124 247L1220 151M1124 217L1264 355M1124 173L1299 347M1145 358L1299 202M1189 150L1299 260M1233 151L1299 217M1276 355L1299 331M1283 211L1287 197M1198 253L1204 239M1167 163L1172 163M1167 163L1151 173M1276 173L1292 184M1235 194L1251 204M1292 184L1276 194M1251 204L1256 204M1251 204L1235 214M1125 225L1130 225M1193 255L1209 266M1151 276L1167 287M1209 266L1214 266M1209 266L1193 276M1167 287L1172 287M1167 287L1151 297M1276 295L1292 305M1235 316L1251 326M1292 305L1276 316M1251 326L1256 326M1251 326L1235 337M1125 350L1130 350M1148 157L1153 157M1173 167L1189 177M1148 157L1132 167M1230 157L1235 157M1235 157L1240 157M1240 157L1249 163M1261 171L1270 177M1230 157L1220 163M1208 171L1199 177M1132 187L1148 197M1189 177L1194 177M1194 177L1199 177M1199 177L1208 183M1220 191L1230 197M1189 177L1173 187M1270 177L1275 177M1270 177L1261 183M1249 191L1240 197M1148 197L1153 197M1173 207L1189 217M1148 197L1132 207M1230 197L1235 197M1235 197L1240 197M1240 197L1249 203M1261 211L1270 217M1230 197L1220 203M1208 211L1199 217M1132 228L1148 238M1189 217L1194 217M1194 217L1199 217M1199 217L1208 223M1220 231L1230 237M1189 217L1173 227M1270 217L1275 217M1270 217L1261 223M1249 231L1240 237M1148 238L1153 238M1173 248L1189 258M1148 238L1132 248M1230 237L1235 237M1235 237L1240 237M1240 237L1249 243M1261 251L1270 257M1230 237L1220 243M1208 251L1199 258M1132 268L1148 278M1189 258L1194 258M1194 258L1199 258M1199 258L1208 263M1220 271L1230 277M1189 258L1173 268M1270 257L1275 257M1270 257L1261 263M1249 271L1240 277M1148 278L1153 278M1173 288L1189 298M1148 278L1132 289M1230 277L1235 277M1235 277L1240 277M1240 277L1249 283M1261 291L1270 297M1230 277L1220 283M1208 292L1199 298M1132 309L1148 319M1189 298L1194 298M1194 298L1199 298M1199 298L1208 304M1220 311L1230 317M1189 298L1173 308M1270 297L1275 297M1270 297L1261 303M1249 311L1240 317M1148 319L1153 319M1173 328L1189 338M1148 319L1132 329M1230 317L1235 317M1235 317L1240 317M1240 317L1249 323M1261 331L1270 337M1230 317L1220 324M1208 332L1199 338M1189 338L1194 338M1194 338L1199 338M1270 337L1275 336"/>
<path stroke="#8549d2" stroke-width="1.2" d="M1474 140L1482 140M1482 140L1490 140M1490 140L1514 157M1514 190L1490 206M1482 206L1490 206M1490 206L1514 223M1514 223L1538 239M1538 239L1514 256M1514 256L1490 273M1474 273L1482 273M1482 273L1490 273M1490 273L1514 289M1514 289L1538 305M1538 305L1514 322M1514 322L1490 339M1474 339L1482 339M1482 339L1490 339M1490 339L1514 355M1514 388L1490 405M1482 405L1490 405M1490 405L1514 421M1514 421L1538 436M1490 140L1493 152M1493 152L1496 164M1358 207L1364 217M1364 217L1370 228M1490 273L1493 282M1493 282L1496 291M1358 342L1364 350M1364 350L1370 358M1490 405L1493 412M1493 412L1496 418M1313 130L1321 130M1321 130L1345 146M1280 146L1255 162M1463 141L1482 154M1419 141L1400 154M1255 162L1280 179M1400 173L1419 186M1345 179L1321 195M1504 164L1511 164M1482 173L1463 186M1313 195L1321 195M1321 195L1345 212M1280 212L1255 228M1463 205L1482 218M1419 205L1400 218M1255 228L1280 245M1400 237L1419 250M1345 244L1321 261M1504 227L1511 227M1482 237L1463 250M1313 261L1321 261M1321 261L1345 277M1280 278L1255 295M1463 269L1482 282M1419 270L1400 283M1255 295L1280 311M1400 302L1419 315M1345 310L1321 326M1504 291L1511 291M1482 301L1463 314M1313 326L1321 326M1321 326L1345 342M1280 344L1255 361M1463 333L1482 345M1419 334L1400 347M1255 361L1280 376M1400 367L1419 379M1345 375L1321 392M1504 355L1511 354M1482 365L1463 378M1313 392L1321 392M1321 392L1345 407M1280 409L1255 427M1463 397L1482 409M1419 399L1400 412M1504 418L1511 418M1321 130L1327 142M1327 142L1333 154M1453 206L1457 216M1321 261L1327 270M1327 270L1333 280M1453 332L1457 340M1321 392L1327 399M1327 399L1333 406M1278 121L1285 121M1285 121L1309 138M1403 123L1411 123M1411 123L1434 139M1372 138L1349 154M1341 154L1349 154M1349 154L1372 169M1309 169L1285 185M1464 155L1471 155M1443 164L1424 176M1278 185L1285 185M1285 185L1309 201M1424 195L1443 207M1372 201L1349 217M1341 217L1349 217M1349 217L1372 232M1319 226L1300 239M1434 232L1411 248M1300 258L1319 270M1403 248L1411 248M1411 248L1434 263M1382 257L1363 270M1363 289L1382 301M1309 296L1285 312M1464 278L1471 278M1434 294L1411 310M1278 312L1285 312M1285 312L1309 327M1403 310L1411 310M1411 310L1434 325M1372 326L1349 342M1341 342L1349 342M1349 342L1372 357M1309 359L1285 375M1464 340L1471 340M1443 350L1424 362M1278 376L1285 375M1285 375L1309 391M1424 381L1443 393M1372 389L1349 405M1341 405L1349 405M1349 405L1372 420M1319 416L1300 429M1434 418L1411 434M1403 435L1411 434M1240 204L1317 126M1240 293L1381 433M1240 336L1444 127M1240 403L1495 139M1271 125L1495 353M1336 434L1495 267M1400 432L1495 331M1462 127L1495 162M1285 185L1292 165M1292 165L1299 145M1411 248L1415 227M1415 227L1419 206M1285 312L1292 290M1292 290L1299 267M1415 349L1419 326M1292 414L1299 390M1306 145L1314 145M1314 145L1337 160M1337 160L1360 176M1276 160L1252 175M1419 146L1427 146M1427 146L1434 146M1434 146L1456 161M1419 146L1397 161M1397 161L1374 176M1237 175L1245 175M1245 175L1252 175M1252 175L1276 191M1276 191L1299 206M1360 176L1367 176M1367 176L1374 176M1374 176L1397 191M1360 176L1337 191M1337 191L1314 206M1456 191L1434 206M1299 206L1306 206M1306 206L1314 206M1314 206L1337 221M1337 221L1360 236M1299 206L1276 221M1276 221L1252 237M1427 206L1434 206M1434 206L1456 221M1456 221L1478 236M1397 221L1374 236M1245 237L1252 237M1252 237L1276 252M1276 252L1299 267M1360 236L1367 236M1367 236L1374 236M1374 236L1397 251M1397 251L1419 266M1360 236L1337 252M1337 252L1314 267M1478 236L1456 251M1456 251L1434 266M1299 267L1306 267M1306 267L1314 267M1314 267L1337 282M1299 267L1276 283M1276 283L1252 298M1419 266L1427 266M1427 266L1434 266M1434 266L1456 280M1456 280L1478 295M1419 266L1397 281M1397 281L1374 297M1237 299L1245 299M1245 299L1252 298M1252 298L1276 313M1367 297L1374 297M1374 297L1397 311M1397 311L1419 326M1337 312L1314 328M1478 295L1456 310M1456 310L1434 326M1306 328L1314 328M1314 328L1337 343M1337 343L1360 357M1276 344L1252 360M1419 326L1427 326M1427 326L1434 326M1434 326L1456 340M1419 326L1397 342M1397 342L1374 357M1237 360L1245 360M1245 360L1252 360M1252 360L1276 375M1276 375L1299 390M1360 357L1367 357M1367 357L1374 357M1374 357L1397 372M1360 357L1337 373M1337 373L1314 389M1456 370L1434 386M1299 390L1306 389M1306 389L1314 389M1314 389L1337 404M1337 404L1360 418M1299 390L1276 406M1276 406L1252 422M1427 386L1434 386M1434 386L1456 400M1456 400L1478 414M1397 402L1374 418M1245 422L1252 422M1360 418L1367 418M1367 418L1374 418M1374 176L1379 186M1379 186L1384 196M1252 237L1259 246M1259 246L1266 255M1374 297L1379 305M1379 305L1384 313M1252 360L1259 367M1259 367L1266 374M1274 136L1281 136M1281 136L1303 151M1244 151L1221 166M1411 146L1428 158M1371 146L1353 158M1221 166L1244 181M1353 175L1371 187M1303 181L1281 196M1448 167L1455 167M1428 176L1411 187M1274 196L1281 196M1281 196L1303 211M1244 211L1221 226M1411 205L1428 216M1371 205L1353 216M1221 226L1244 241M1353 234L1371 246M1303 240L1281 255M1448 225L1455 225M1428 234L1411 245M1274 255L1281 255M1281 255L1303 270M1244 270L1221 286M1411 263L1428 274M1371 263L1353 275M1221 286L1244 300M1353 293L1371 304M1303 299L1281 315M1448 283L1455 283M1428 292L1411 304M1274 315L1281 315M1281 315L1303 329M1244 330L1221 346M1411 321L1428 332M1371 322L1353 334M1221 346L1244 360M1353 351L1371 363M1303 359L1281 374M1448 341L1455 340M1428 350L1411 362M1274 374L1281 374M1281 374L1303 388M1244 390L1221 405M1411 379L1428 390M1371 380L1353 393M1448 398L1455 398M1345 177L1351 187M1221 226L1228 235M1228 235L1236 244M1345 292L1351 300M1221 346L1228 353M1228 353L1236 360M1345 408L1351 414M1243 129L1250 129M1250 129L1272 143M1358 130L1365 130M1365 130L1386 144M1329 144L1308 158M1301 158L1308 158M1308 158L1329 172M1272 172L1250 186M1414 159L1420 159M1394 167L1377 178M1243 186L1250 186M1250 186L1272 201M1377 195L1394 206M1329 201L1308 215M1301 215L1308 215M1308 215L1329 229M1281 224L1263 235M1386 229L1365 243M1263 253L1281 264M1358 243L1365 243M1365 243L1386 257M1338 252L1321 264M1321 281L1338 292M1272 287L1250 302M1414 271L1420 271M1386 286L1365 300M1243 302L1250 302M1250 302L1272 316M1358 300L1365 300M1365 300L1386 314M1329 315L1308 330M1301 330L1308 330M1308 330L1329 343M1272 345L1250 360M1414 327L1420 327M1394 336L1377 348M1243 360L1250 360M1250 360L1272 373M1377 365L1394 376M1329 372L1308 387M1301 387L1308 387M1308 387L1329 400M1281 396L1263 408M1386 399L1365 413M1358 414L1365 413M1208 203L1279 132M1208 284L1337 412M1208 324L1395 134M1208 384L1442 144M1237 132L1442 340M1296 413L1442 261M1354 411L1442 319M1412 134L1442 165M1424 196L1428 178M1313 253L1319 233M1420 327L1424 307M1424 307L1428 287M1308 387L1313 365M1313 365L1319 344M1270 150L1277 150M1277 150L1298 164M1298 164L1319 178M1242 163L1220 177M1374 150L1381 150M1381 150L1387 151M1387 151L1408 164M1374 150L1353 164M1353 164L1333 178M1207 177L1214 177M1214 177L1220 177M1220 177L1242 191M1242 191L1263 205M1319 178L1326 178M1326 178L1333 178M1333 178L1353 192M1319 178L1298 192M1298 192L1277 205M1408 192L1387 205M1263 205L1270 205M1270 205L1277 205M1277 205L1298 219M1298 219L1319 233M1263 205L1242 219M1242 219L1220 234M1381 205L1387 205M1387 205L1408 219M1408 219L1428 232M1353 219L1333 233M1214 234L1220 234M1220 234L1242 247M1242 247L1263 261M1319 233L1326 233M1326 233L1333 233M1333 233L1353 247M1353 247L1374 260M1319 233L1298 247M1298 247L1277 261M1428 232L1408 246M1408 246L1387 260M1263 261L1270 261M1270 261L1277 261M1277 261L1298 275M1263 261L1242 275M1242 275L1220 290M1374 260L1381 260M1381 260L1387 260M1387 260L1408 273M1408 273L1428 287M1374 260L1353 274M1353 274L1333 288M1207 290L1214 290M1214 290L1220 290M1220 290L1242 303M1326 288L1333 288M1333 288L1353 302M1353 302L1374 315M1298 303L1277 317M1428 287L1408 301M1408 301L1387 315M1270 317L1277 317M1277 317L1298 330M1298 330L1319 344M1242 331L1220 346M1374 315L1381 315M1381 315L1387 315M1387 315L1408 328M1374 315L1353 329M1353 329L1333 343M1207 346L1214 346M1214 346L1220 346M1220 346L1242 359M1242 359L1263 373M1319 344L1326 344M1326 344L1333 343M1333 343L1353 357M1319 344L1298 358M1298 358L1277 373M1408 355L1387 370M1263 373L1270 373M1270 373L1277 373M1277 373L1298 386M1298 386L1319 399M1263 373L1242 388M1242 388L1220 402M1381 370L1387 370M1387 370L1408 383M1408 383L1428 396M1353 384L1333 399M1214 402L1220 402M1319 399L1326 399M1326 399L1333 399M1277 150L1283 159M1283 159L1289 169M1387 205L1391 214M1391 214L1396 223M1277 261L1283 269M1283 269L1289 277M1387 315L1391 322M1391 322L1396 329M1277 373L1283 379M1283 379L1289 385M1241 142L1248 142M1248 142L1269 156M1214 155L1193 169M1368 151L1384 162M1331 151L1314 161M1193 169L1214 182M1314 177L1331 188M1269 183L1248 196M1402 170L1408 170M1384 178L1368 188M1241 196L1248 196M1248 196L1269 210M1214 210L1193 224M1368 204L1384 215M1331 204L1314 215M1193 224L1214 237M1314 231L1331 242M1269 237L1248 250M1402 223L1408 223M1384 231L1368 242M1241 251L1248 250M1248 250L1269 264M1214 264L1193 278M1368 258L1384 268M1331 258L1314 269M1193 278L1214 292M1314 285L1331 295M1269 291L1248 305M1402 276L1408 276M1384 284L1368 295M1241 305L1248 305M1248 305L1269 318M1214 319L1193 333M1368 311L1384 321M1331 312L1314 323M1193 333L1214 346M1314 339L1331 349M1269 345L1248 359M1402 329L1408 329M1384 337L1368 348M1241 359L1248 359M1248 359L1269 372M1214 374L1193 388M1368 364L1384 374M1331 365L1314 376M1402 382L1408 382M1360 152L1365 162M1248 196L1254 205M1254 205L1261 214M1360 258L1365 265M1248 305L1254 312M1254 312L1261 319M1360 363L1365 369M1214 134L1220 135M1220 135L1240 148M1320 136L1326 136M1326 136L1346 149M1293 148L1274 161M1267 161L1274 161M1274 161L1293 174M1240 174L1220 187M1371 162L1378 162M1353 170L1338 180M1214 187L1220 187M1220 187L1240 201M1338 195L1353 206M1293 201L1274 214M1267 214L1274 214M1274 214L1293 227M1249 222L1232 232M1346 227L1326 240M1232 248L1249 259M1320 240L1326 240M1326 240L1346 253M1301 248L1285 258M1285 274L1301 284M1240 280L1220 293M1371 265L1378 265M1346 279L1326 292M1214 293L1220 293M1220 293L1240 306M1320 292L1326 292M1326 292L1346 305M1293 305L1274 319M1267 319L1274 319M1274 319L1293 332M1240 333L1220 346M1371 317L1378 317M1353 325L1338 336M1214 346L1220 346M1220 346L1240 359M1338 351L1353 361M1293 358L1274 371M1267 372L1274 371M1274 371L1293 384M1249 380L1232 391M1346 382L1326 396M1320 396L1326 396M1182 203L1247 138M1182 277L1301 395M1182 314L1354 139M1182 369L1397 149M1208 138L1397 329M1263 396L1397 256M1317 394L1397 310M1369 139L1397 168M1331 171L1336 154M1227 223L1233 205M1326 292L1331 274M1331 274L1336 255M1220 346L1227 327M1227 327L1233 308M1326 396L1331 376M1331 376L1336 356M1240 154L1246 154M1246 154L1266 167M1266 167L1285 179M1214 166L1194 179M1336 154L1342 154M1342 154L1348 154M1348 154L1367 167M1336 154L1317 167M1317 167L1298 179M1181 179L1188 179M1188 179L1194 179M1194 179L1214 192M1214 192L1233 205M1285 179L1291 179M1291 179L1298 179M1298 179L1317 192M1285 179L1266 192M1266 192L1246 205M1367 192L1348 205M1233 205L1240 205M1240 205L1246 205M1246 205L1266 218M1266 218L1285 230M1233 205L1214 218M1214 218L1194 231M1342 205L1348 205M1348 205L1367 217M1367 217L1386 230M1317 218L1298 230M1188 231L1194 231M1194 231L1214 244M1214 244L1233 256M1285 230L1291 230M1291 230L1298 230M1298 230L1317 243M1317 243L1336 255M1285 230L1266 243M1266 243L1246 256M1386 230L1367 243M1367 243L1348 255M1233 256L1240 256M1240 256L1246 256M1246 256L1266 269M1233 256L1214 269M1214 269L1194 282M1336 255L1342 255M1342 255L1348 255M1348 255L1367 268M1367 268L1386 280M1336 255L1317 268M1317 268L1298 281M1181 283L1188 283M1188 283L1194 282M1194 282L1214 295M1291 281L1298 281M1298 281L1317 294M1317 294L1336 306M1266 294L1246 307M1386 280L1367 293M1367 293L1348 306M1240 308L1246 307M1246 307L1266 320M1266 320L1285 332M1214 321L1194 334M1336 306L1342 306M1342 306L1348 306M1348 306L1367 318M1336 306L1317 319M1317 319L1298 332M1181 334L1188 334M1188 334L1194 334M1194 334L1214 347M1214 347L1233 359M1285 332L1291 332M1291 332L1298 332M1298 332L1317 344M1285 332L1266 345M1266 345L1246 359M1367 343L1348 356M1233 359L1240 359M1240 359L1246 359M1246 359L1266 371M1266 371L1285 383M1233 359L1214 372M1214 372L1194 386M1342 356L1348 356M1348 356L1367 368M1367 368L1386 380M1317 370L1298 383M1188 386L1194 386M1285 383L1291 383M1291 383L1298 383M1194 179L1201 188M1201 188L1208 196M1298 230L1303 238M1303 238L1308 246M1194 282L1201 290M1201 290L1208 297M1298 332L1303 338M1303 338L1308 345M1214 146L1220 146M1220 146L1239 159M1188 159L1169 171M1297 155L1282 164M1169 171L1188 184M1282 179L1297 189M1239 184L1220 196M1214 196L1220 196M1220 196L1239 209M1188 209L1169 222M1297 204L1282 214M1169 222L1188 234M1282 229L1297 239M1239 234L1220 247M1214 247L1220 247M1220 247L1239 259M1188 259L1169 272M1297 253L1282 263M1169 272L1188 284M1282 278L1297 288M1239 284L1220 297M1214 297L1220 297M1220 297L1239 309M1188 310L1169 322M1297 303L1282 313M1169 322L1188 335M1282 328L1297 337M1239 334L1220 347M1214 347L1220 347M1220 347L1239 359M1188 360L1169 373M1297 352L1282 363M1169 171L1176 180M1176 180L1183 188M1169 272L1176 279M1176 279L1183 286M1169 373L1176 379M1176 379L1183 384"/>
<path stroke="#c66a22" stroke-width="1.2" d="M1514 157L1538 174M1538 174L1514 190M1474 206L1482 206M1514 355L1538 370M1538 370L1514 388M1474 405L1482 405M1305 130L1313 130M1345 146L1370 163M1305 130L1280 146M1434 131L1441 131M1441 131L1449 131M1449 131L1463 141M1482 154L1496 164M1434 131L1419 141M1400 154L1386 163M1280 179L1305 195M1370 163L1378 163M1378 163L1386 163M1386 163L1400 173M1419 186L1434 195M1370 163L1345 179M1496 164L1504 164M1496 164L1482 173M1463 186L1449 196M1305 195L1313 195M1345 212L1370 228M1305 195L1280 212M1434 195L1441 196M1441 196L1449 196M1449 196L1463 205M1482 218L1496 227M1434 195L1419 205M1400 218L1386 228M1280 245L1305 261M1370 228L1378 228M1378 228L1386 228M1386 228L1400 237M1419 250L1434 260M1370 228L1345 244M1496 227L1504 227M1496 227L1482 237M1463 250L1449 260M1305 261L1313 261M1345 277L1370 293M1305 261L1280 278M1434 260L1441 260M1441 260L1449 260M1449 260L1463 269M1482 282L1496 291M1434 260L1419 270M1400 283L1386 293M1280 311L1305 327M1370 293L1378 293M1378 293L1386 293M1386 293L1400 302M1419 315L1434 324M1370 293L1345 310M1496 291L1504 291M1496 291L1482 301M1463 314L1449 324M1305 327L1313 326M1345 342L1370 358M1305 327L1280 344M1434 324L1441 324M1441 324L1449 324M1449 324L1463 333M1482 345L1496 355M1434 324L1419 334M1400 347L1386 357M1280 376L1305 392M1370 358L1378 358M1378 358L1386 357M1386 357L1400 367M1419 379L1434 388M1370 358L1345 375M1496 355L1504 355M1496 355L1482 365M1463 378L1449 388M1305 392L1313 392M1345 407L1370 423M1305 392L1280 409M1434 388L1441 388M1441 388L1449 388M1449 388L1463 397M1482 409L1496 418M1434 388L1419 399M1400 412L1386 422M1370 423L1378 423M1378 423L1386 422M1496 418L1504 418M1449 196L1453 206M1449 324L1453 332M1270 121L1278 121M1309 138L1333 154M1396 123L1403 123M1434 139L1457 154M1396 123L1372 138M1333 154L1341 154M1372 169L1396 185M1333 154L1309 169M1457 154L1464 155M1457 154L1443 164M1424 176L1411 185M1270 185L1278 185M1309 201L1333 217M1396 185L1403 185M1403 185L1411 185M1411 185L1424 195M1443 207L1457 216M1396 185L1372 201M1333 217L1341 217M1372 232L1396 248M1333 217L1319 226M1300 239L1285 248M1457 216L1464 216M1464 216L1471 216M1457 216L1434 232M1270 249L1278 249M1278 249L1285 248M1285 248L1300 258M1319 270L1333 280M1396 248L1403 248M1434 263L1457 278M1396 248L1382 257M1363 270L1349 279M1333 280L1341 280M1341 280L1349 279M1349 279L1363 289M1382 301L1396 310M1333 280L1309 296M1457 278L1464 278M1457 278L1434 294M1270 312L1278 312M1309 327L1333 343M1396 310L1403 310M1434 325L1457 340M1396 310L1372 326M1333 343L1341 342M1372 357L1396 372M1333 343L1309 359M1457 340L1464 340M1457 340L1443 350M1424 362L1411 372M1270 376L1278 376M1309 391L1333 406M1396 372L1403 372M1403 372L1411 372M1411 372L1424 381M1443 393L1457 402M1396 372L1372 389M1333 406L1341 405M1372 420L1396 435M1333 406L1319 416M1300 429L1285 439M1457 402L1464 402M1464 402L1471 401M1457 402L1434 418M1270 439L1278 439M1278 439L1285 439M1396 435L1403 435M1240 359L1317 435M1240 270L1381 126M1240 226L1444 431M1240 160L1495 417M1271 437L1495 203M1336 126L1495 290M1400 127L1495 226M1462 430L1495 395M1411 372L1415 349M1285 439L1292 414M1299 145L1306 145M1299 145L1276 160M1456 161L1478 176M1397 191L1419 206M1478 176L1456 191M1419 206L1427 206M1419 206L1397 221M1237 237L1245 237M1337 282L1360 297M1276 313L1299 328M1360 297L1367 297M1360 297L1337 312M1299 328L1306 328M1299 328L1276 344M1456 340L1478 355M1397 372L1419 386M1478 355L1456 370M1419 386L1427 386M1419 386L1397 402M1237 422L1245 422M1266 136L1274 136M1303 151L1326 166M1266 136L1244 151M1384 137L1391 138M1391 138L1398 138M1398 138L1411 146M1428 158L1441 167M1384 137L1371 146M1353 158L1340 166M1244 181L1266 196M1326 166L1333 166M1333 166L1340 166M1340 166L1353 175M1371 187L1384 196M1326 166L1303 181M1441 167L1448 167M1441 167L1428 176M1411 187L1398 196M1266 196L1274 196M1303 211L1326 225M1266 196L1244 211M1384 196L1391 196M1391 196L1398 196M1398 196L1411 205M1428 216L1441 225M1384 196L1371 205M1353 216L1340 225M1244 241L1266 255M1326 225L1333 225M1333 225L1340 225M1340 225L1353 234M1371 246L1384 254M1326 225L1303 240M1441 225L1448 225M1441 225L1428 234M1411 245L1398 254M1266 255L1274 255M1303 270L1326 284M1266 255L1244 270M1384 254L1391 254M1391 254L1398 254M1398 254L1411 263M1428 274L1441 283M1384 254L1371 263M1353 275L1340 284M1244 300L1266 315M1326 284L1333 284M1333 284L1340 284M1340 284L1353 293M1371 304L1384 313M1326 284L1303 299M1441 283L1448 283M1441 283L1428 292M1411 304L1398 312M1266 315L1274 315M1303 329L1326 343M1266 315L1244 330M1384 313L1391 313M1391 313L1398 312M1398 312L1411 321M1428 332L1441 341M1384 313L1371 322M1353 334L1340 343M1244 360L1266 374M1326 343L1333 343M1333 343L1340 343M1340 343L1353 351M1371 363L1384 371M1326 343L1303 359M1441 341L1448 341M1441 341L1428 350M1411 362L1398 371M1266 374L1274 374M1303 388L1326 402M1266 374L1244 390M1384 371L1391 371M1391 371L1398 371M1398 371L1411 379M1428 390L1441 399M1384 371L1371 380M1353 393L1340 402M1326 402L1333 402M1333 402L1340 402M1441 399L1448 398M1340 166L1345 177M1340 284L1345 292M1340 402L1345 408M1236 128L1243 129M1272 143L1294 158M1351 130L1358 130M1386 144L1407 158M1351 130L1329 144M1294 158L1301 158M1329 172L1351 187M1294 158L1272 172M1407 158L1414 159M1407 158L1394 167M1377 178L1365 187M1236 186L1243 186M1272 201L1294 215M1351 187L1358 187M1358 187L1365 187M1365 187L1377 195M1394 206L1407 215M1351 187L1329 201M1294 215L1301 215M1329 229L1351 243M1294 215L1281 224M1263 235L1250 244M1407 215L1414 215M1414 215L1420 215M1407 215L1386 229M1236 244L1243 244M1243 244L1250 244M1250 244L1263 253M1281 264L1294 272M1351 243L1358 243M1386 257L1407 271M1351 243L1338 252M1321 264L1308 272M1294 272L1301 272M1301 272L1308 272M1308 272L1321 281M1338 292L1351 300M1294 272L1272 287M1407 271L1414 271M1407 271L1386 286M1236 302L1243 302M1272 316L1294 330M1351 300L1358 300M1386 314L1407 328M1351 300L1329 315M1294 330L1301 330M1329 343L1351 357M1294 330L1272 345M1407 328L1414 327M1407 328L1394 336M1377 348L1365 357M1236 360L1243 360M1272 373L1294 387M1351 357L1358 357M1358 357L1365 357M1365 357L1377 365M1394 376L1407 384M1351 357L1329 372M1294 387L1301 387M1329 400L1351 414M1294 387L1281 396M1263 408L1250 417M1407 384L1414 384M1414 384L1420 384M1407 384L1386 399M1236 418L1243 417M1243 417L1250 417M1351 414L1358 414M1208 345L1279 414M1208 264L1337 133M1208 224L1395 410M1208 163L1442 398M1237 415L1442 203M1296 133L1442 282M1354 133L1442 223M1412 410L1442 378M1420 215L1424 196M1308 272L1313 253M1263 150L1270 150M1263 150L1242 163M1408 164L1428 178M1353 192L1374 205M1428 178L1408 192M1374 205L1381 205M1374 205L1353 219M1207 234L1214 234M1298 275L1319 288M1242 303L1263 317M1319 288L1326 288M1319 288L1298 303M1263 317L1270 317M1263 317L1242 331M1408 328L1428 341M1353 357L1374 370M1428 341L1408 355M1374 370L1381 370M1374 370L1353 384M1207 403L1214 402M1235 142L1241 142M1269 156L1289 169M1235 142L1214 155M1343 143L1349 143M1349 143L1356 143M1356 143L1368 151M1384 162L1396 170M1343 143L1331 151M1314 161L1302 169M1214 182L1235 196M1289 169L1296 169M1296 169L1302 169M1302 169L1314 177M1331 188L1343 196M1289 169L1269 183M1396 170L1402 170M1396 170L1384 178M1368 188L1356 196M1235 196L1241 196M1269 210L1289 223M1235 196L1214 210M1343 196L1349 196M1349 196L1356 196M1356 196L1368 204M1384 215L1396 223M1343 196L1331 204M1314 215L1302 223M1214 237L1235 251M1289 223L1296 223M1296 223L1302 223M1302 223L1314 231M1331 242L1343 250M1289 223L1269 237M1396 223L1402 223M1396 223L1384 231M1368 242L1356 250M1235 251L1241 251M1269 264L1289 277M1235 251L1214 264M1343 250L1349 250M1349 250L1356 250M1356 250L1368 258M1384 268L1396 276M1343 250L1331 258M1314 269L1302 277M1214 292L1235 305M1289 277L1296 277M1296 277L1302 277M1302 277L1314 285M1331 295L1343 303M1289 277L1269 291M1396 276L1402 276M1396 276L1384 284M1368 295L1356 303M1235 305L1241 305M1269 318L1289 331M1235 305L1214 319M1343 303L1349 303M1349 303L1356 303M1356 303L1368 311M1384 321L1396 329M1343 303L1331 312M1314 323L1302 331M1214 346L1235 359M1289 331L1296 331M1296 331L1302 331M1302 331L1314 339M1331 349L1343 357M1289 331L1269 345M1396 329L1402 329M1396 329L1384 337M1368 348L1356 356M1235 359L1241 359M1269 372L1289 385M1235 359L1214 374M1343 357L1349 357M1349 357L1356 356M1356 356L1368 364M1384 374L1396 382M1343 357L1331 365M1314 376L1302 385M1289 385L1296 385M1296 385L1302 385M1396 382L1402 382M1356 143L1360 152M1356 250L1360 258M1356 356L1360 363M1207 134L1214 134M1240 148L1261 161M1313 135L1320 136M1346 149L1365 162M1313 135L1293 148M1261 161L1267 161M1293 174L1313 188M1261 161L1240 174M1365 162L1371 162M1365 162L1353 170M1338 180L1326 188M1207 187L1214 187M1240 201L1261 214M1313 188L1320 188M1320 188L1326 188M1326 188L1338 195M1353 206L1365 214M1313 188L1293 201M1261 214L1267 214M1293 227L1313 240M1261 214L1249 222M1232 232L1220 240M1365 214L1371 214M1371 214L1378 214M1365 214L1346 227M1207 240L1214 240M1214 240L1220 240M1220 240L1232 248M1249 259L1261 266M1313 240L1320 240M1346 253L1365 265M1313 240L1301 248M1285 258L1274 266M1261 266L1267 266M1267 266L1274 266M1274 266L1285 274M1301 284L1313 292M1261 266L1240 280M1365 265L1371 265M1365 265L1346 279M1207 294L1214 293M1240 306L1261 319M1313 292L1320 292M1346 305L1365 317M1313 292L1293 305M1261 319L1267 319M1293 332L1313 344M1261 319L1240 333M1365 317L1371 317M1365 317L1353 325M1338 336L1326 344M1207 347L1214 346M1240 359L1261 372M1313 344L1320 344M1320 344L1326 344M1326 344L1338 351M1353 361L1365 369M1313 344L1293 358M1261 372L1267 372M1293 384L1313 396M1261 372L1249 380M1232 391L1220 399M1365 369L1371 369M1371 369L1378 369M1365 369L1346 382M1207 400L1214 399M1214 399L1220 399M1313 396L1320 396M1182 333L1247 396M1182 258L1301 139M1182 222L1354 393M1182 167L1397 382M1208 397L1397 202M1263 138L1397 275M1317 139L1397 222M1369 393L1397 363M1326 188L1331 171M1220 240L1227 223M1233 154L1240 154M1233 154L1214 166M1367 167L1386 180M1317 192L1336 205M1386 180L1367 192M1336 205L1342 205M1336 205L1317 218M1181 231L1188 231M1266 269L1285 281M1214 295L1233 308M1285 281L1291 281M1285 281L1266 294M1233 308L1240 308M1233 308L1214 321M1367 318L1386 330M1317 344L1336 356M1386 330L1367 343M1336 356L1342 356M1336 356L1317 370M1181 386L1188 386M1208 146L1214 146M1239 159L1258 172M1208 146L1188 159M1308 147L1314 147M1314 147L1320 147M1308 147L1297 155M1282 164L1270 172M1188 184L1208 196M1258 172L1264 172M1264 172L1270 172M1270 172L1282 179M1297 189L1308 197M1258 172L1239 184M1208 196L1214 196M1239 209L1258 221M1208 196L1188 209M1308 197L1314 197M1314 197L1320 197M1308 197L1297 204M1282 214L1270 221M1188 234L1208 247M1258 221L1264 221M1264 221L1270 221M1270 221L1282 229M1297 239L1308 246M1258 221L1239 234M1208 247L1214 247M1239 259L1258 271M1208 247L1188 259M1308 246L1314 246M1314 246L1320 246M1308 246L1297 253M1282 263L1270 271M1188 284L1208 297M1258 271L1264 271M1264 271L1270 271M1270 271L1282 278M1297 288L1308 295M1258 271L1239 284M1208 297L1214 297M1239 309L1258 321M1208 297L1188 310M1308 295L1314 295M1314 295L1320 295M1308 295L1297 303M1282 313L1270 321M1188 335L1208 347M1258 321L1264 321M1264 321L1270 321M1270 321L1282 328M1297 337L1308 345M1258 321L1239 334M1208 347L1214 347M1239 359L1258 371M1208 347L1188 360M1308 345L1314 344M1314 344L1320 344M1308 345L1297 352M1282 363L1270 370M1258 371L1264 370M1264 370L1270 370"/>
<path stroke="#8549d2" stroke-width="1.5" d="M1453 88L1486 111M1615 91L1626 91M1626 91L1657 113M1573 112L1540 134M1530 134L1540 134M1540 134L1573 157M1486 156L1453 179M1698 136L1708 136M1670 149L1644 166M1453 179L1486 201M1644 192L1670 210M1573 201L1540 224M1530 224L1540 224M1540 224L1573 246M1499 237L1473 255M1657 245L1626 267M1473 282L1499 300M1615 267L1626 267M1626 267L1657 289M1586 281L1560 299M1560 326L1586 343M1486 336L1453 360M1698 310L1708 310M1657 333L1626 355M1453 360L1486 381M1615 356L1626 355M1626 355L1657 376M1573 379L1540 402M1530 403L1540 402M1540 402L1573 423M1486 427L1453 450M1698 397L1708 397M1670 411L1644 430M1453 450L1486 471M1644 456L1670 472M1573 468L1540 492M1530 492L1540 492M1540 492L1573 512M1499 507L1473 526M1657 508L1626 532M1615 532L1626 532M1389 333L1585 530M1389 395L1671 97M1389 490L1740 114M1433 93L1740 416M1523 533L1740 294M1610 529L1740 384M1695 98L1740 146M1707 195L1706 167M1543 282L1546 251M1708 397L1707 364M1707 364L1706 332M1540 492L1543 456M1543 456L1546 420M1474 122L1484 123M1484 123L1515 144M1515 144L1546 166M1431 144L1399 165M1627 124L1637 124M1637 124L1647 125M1647 125L1676 146M1627 124L1597 145M1597 145L1566 166M1378 165L1389 165M1389 165L1399 165M1399 165L1431 187M1431 187L1463 208M1546 166L1556 166M1556 166L1566 166M1566 166L1597 187M1546 166L1515 187M1515 187L1484 208M1676 187L1647 208M1463 208L1474 208M1474 208L1484 208M1484 208L1515 229M1515 229L1546 251M1463 208L1431 230M1431 230L1399 252M1637 208L1647 208M1647 208L1676 229M1676 229L1706 249M1597 229L1566 250M1389 252L1399 252M1399 252L1431 273M1431 273L1463 294M1546 251L1556 251M1556 251L1566 250M1566 250L1597 271M1597 271L1627 292M1546 251L1515 272M1515 272L1484 294M1706 249L1676 270M1676 270L1647 292M1463 294L1474 294M1474 294L1484 294M1484 294L1515 315M1463 294L1431 316M1431 316L1399 339M1627 292L1637 292M1637 292L1647 292M1647 292L1676 312M1676 312L1706 332M1627 292L1597 313M1597 313L1566 335M1378 339L1389 339M1389 339L1399 339M1399 339L1431 359M1556 335L1566 335M1566 335L1597 355M1597 355L1627 376M1515 358L1484 380M1706 332L1676 354M1676 354L1647 375M1474 380L1484 380M1484 380L1515 400M1515 400L1546 420M1431 403L1399 426M1627 376L1637 375M1637 375L1647 375M1647 375L1676 395M1627 376L1597 398M1597 398L1566 420M1378 426L1389 426M1389 426L1399 426M1399 426L1431 446M1431 446L1463 466M1546 420L1556 420M1556 420L1566 420M1566 420L1597 440M1546 420L1515 443M1515 443L1484 465M1676 437L1647 459M1463 466L1474 466M1474 466L1484 465M1484 465L1515 485M1515 485L1546 505M1463 466L1431 489M1431 489L1399 512M1637 459L1647 459M1647 459L1676 478M1676 478L1706 498M1597 482L1566 504M1389 513L1399 512M1546 505L1556 505M1556 505L1566 504M1484 123L1488 138M1488 138L1492 153M1647 208L1647 221M1647 221L1647 234M1484 294L1488 305M1488 305L1492 317M1647 375L1647 384M1647 384L1647 393M1484 465L1488 473M1488 473L1492 480M1422 112L1432 112M1432 112L1462 133M1381 132L1350 152M1607 126L1630 142M1553 126L1529 142M1350 152L1381 173M1529 166L1553 182M1462 174L1432 194M1656 155L1665 155M1630 167L1607 182M1422 194L1432 194M1432 194L1462 215M1381 215L1350 236M1607 206L1630 222M1553 207L1529 223M1350 236L1381 256M1529 247L1553 263M1462 256L1432 277M1656 234L1665 234M1630 246L1607 263M1422 277L1432 277M1432 277L1462 297M1381 298L1350 319M1607 286L1630 302M1553 287L1529 304M1350 319L1381 339M1529 328L1553 344M1462 338L1432 359M1656 314L1665 314M1630 326L1607 343M1422 359L1432 359M1432 359L1462 379M1381 381L1350 403M1607 367L1630 382M1553 368L1529 385M1350 403L1381 422M1529 409L1553 425M1462 420L1432 441M1656 393L1665 393M1630 406L1607 423M1422 442L1432 441M1432 441L1462 461M1381 464L1350 486M1607 447L1630 462M1553 449L1529 466M1656 473L1665 472M1591 129L1593 143M1432 194L1437 207M1437 207L1442 221M1591 286L1593 297M1432 359L1437 368M1437 368L1442 378M1591 443L1593 450M1374 102L1383 102M1383 102L1413 122M1527 104L1536 104M1536 104L1565 124M1490 123L1461 142M1451 142L1461 142M1461 142L1490 162M1413 162L1383 181M1601 144L1610 144M1576 155L1553 170M1374 181L1383 181M1383 181L1413 201M1553 193L1576 209M1490 201L1461 221M1451 221L1461 221M1461 221L1490 240M1424 233L1401 249M1565 240L1536 259M1401 272L1424 288M1527 259L1536 259M1536 259L1565 278M1501 271L1478 287M1478 310L1501 326M1413 320L1383 340M1601 297L1610 297M1565 317L1536 337M1374 340L1383 340M1383 340L1413 359M1527 337L1536 337M1536 337L1565 355M1490 357L1461 377M1451 378L1461 377M1461 377L1490 396M1413 398L1383 419M1601 373L1610 373M1576 386L1553 402M1374 419L1383 419M1383 419L1413 438M1553 425L1576 439M1490 435L1461 456M1451 456L1461 456M1461 456L1490 474M1424 469L1401 486M1565 471L1536 491M1527 492L1536 491M1327 204L1422 107M1327 316L1501 490M1327 371L1577 110M1327 454L1638 125M1366 107L1638 390M1445 492L1638 283M1523 489L1638 362M1599 110L1638 153M1539 157L1542 133M1389 234L1396 207M1536 337L1539 309M1539 309L1542 281M1383 419L1389 389M1389 389L1396 359M1536 491L1539 460M1539 460L1542 429M1405 132L1414 132M1414 132L1442 151M1442 151L1470 170M1367 150L1338 169M1542 133L1551 133M1551 133L1559 133M1559 133L1586 152M1542 133L1515 151M1515 151L1487 170M1320 169L1329 169M1329 169L1338 169M1338 169L1367 188M1367 188L1396 207M1470 170L1478 170M1478 170L1487 170M1487 170L1515 189M1470 170L1442 189M1442 189L1414 207M1586 189L1559 207M1396 207L1405 207M1405 207L1414 207M1414 207L1442 226M1442 226L1470 245M1396 207L1367 226M1367 226L1338 246M1551 207L1559 207M1559 207L1586 225M1586 225L1612 244M1515 226L1487 245M1329 246L1338 246M1338 246L1367 264M1367 264L1396 283M1470 245L1478 245M1478 245L1487 245M1487 245L1515 263M1515 263L1542 281M1470 245L1442 264M1442 264L1414 283M1612 244L1586 262M1586 262L1559 281M1396 283L1405 283M1405 283L1414 283M1414 283L1442 301M1396 283L1367 303M1367 303L1338 322M1542 281L1551 281M1551 281L1559 281M1559 281L1586 299M1586 299L1612 317M1542 281L1515 300M1515 300L1487 319M1320 322L1329 322M1329 322L1338 322M1338 322L1367 340M1478 319L1487 319M1487 319L1515 337M1515 337L1542 355M1442 339L1414 358M1612 317L1586 336M1586 336L1559 355M1405 359L1414 358M1414 358L1442 376M1442 376L1470 394M1367 379L1338 398M1542 355L1551 355M1551 355L1559 355M1559 355L1586 372M1542 355L1515 375M1515 375L1487 394M1320 399L1329 399M1329 399L1338 398M1338 398L1367 417M1367 417L1396 435M1470 394L1478 394M1478 394L1487 394M1487 394L1515 412M1470 394L1442 414M1442 414L1414 434M1586 409L1559 429M1396 435L1405 434M1405 434L1414 434M1414 434L1442 452M1442 452L1470 469M1396 435L1367 455M1367 455L1338 475M1551 429L1559 429M1559 429L1586 446M1586 446L1612 463M1515 449L1487 469M1329 475L1338 475M1470 469L1478 469M1478 469L1487 469M1338 169L1345 182M1345 182L1352 195M1487 245L1491 256M1491 256L1494 267M1338 322L1345 332M1345 332L1352 341M1487 394L1491 402M1491 402L1494 410M1361 122L1370 122M1370 122L1397 140M1324 140L1297 158M1527 134L1548 149M1479 134L1457 148M1297 158L1324 176M1457 170L1479 184M1397 177L1370 195M1572 160L1580 160M1548 170L1527 184M1361 195L1370 195M1370 195L1397 213M1324 213L1297 232M1527 206L1548 220M1479 206L1457 220M1297 232L1324 250M1457 242L1479 256M1397 249L1370 268M1572 230L1580 230M1548 241L1527 256M1361 268L1370 268M1370 268L1397 286M1324 287L1297 305M1527 277L1548 291M1479 278L1457 292M1297 305L1324 323M1457 314L1479 328M1397 322L1370 341M1572 301L1580 301M1548 312L1527 327M1361 341L1370 341M1370 341L1397 358M1324 360L1297 379M1527 348L1548 362M1479 349L1457 364M1297 379L1324 397M1457 386L1479 399M1397 395L1370 414M1572 372L1580 371M1548 383L1527 398M1361 414L1370 414M1370 414L1397 431M1324 434L1297 453M1527 419L1548 433M1479 421L1457 436M1572 442L1580 442M1297 158L1304 171M1304 171L1312 183M1446 242L1450 253M1297 305L1304 315M1304 315L1312 325M1446 383L1450 391M1297 453L1304 460M1304 460L1312 466M1320 113L1329 113M1329 113L1355 131M1459 115L1467 115M1467 115L1492 132M1424 132L1399 149M1390 149L1399 149M1399 149L1424 166M1355 166L1329 183M1525 150L1533 150M1502 160L1482 173M1320 183L1329 183M1329 183L1355 201M1482 194L1502 208M1424 201L1399 218M1390 218L1399 218M1399 218L1424 236M1366 229L1345 243M1492 235L1467 253M1345 264L1366 278M1459 253L1467 253M1467 253L1492 270M1435 263L1414 278M1414 298L1435 312M1355 306L1329 324M1525 286L1533 286M1492 304L1467 322M1320 325L1329 324M1329 324L1355 341M1459 322L1467 322M1467 322L1492 338M1424 340L1399 358M1390 358L1399 358M1399 358L1424 375M1355 377L1329 395M1525 355L1533 355M1502 366L1482 380M1320 395L1329 395M1329 395L1355 412M1482 401L1502 414M1424 409L1399 428M1390 428L1399 428M1399 428L1424 444M1366 439L1345 454M1492 442L1467 460M1459 460L1467 460M1279 204L1364 118M1279 303L1434 458M1279 352L1503 119M1279 426L1559 133M1313 117L1559 370M1385 460L1559 274M1455 457L1559 345M1523 120L1559 158M1399 218L1404 196M1404 196L1409 173M1533 286L1536 263M1536 263L1538 239M1399 358L1404 332M1404 332L1409 307M1536 397L1538 370M1350 139L1358 139M1358 139L1384 156M1384 156L1409 173M1316 156L1291 172M1474 140L1450 157M1450 157L1425 173M1274 172L1282 172M1282 172L1291 172M1291 172L1316 190M1316 190L1342 207M1409 173L1417 173M1417 173L1425 173M1425 173L1450 190M1409 173L1384 190M1384 190L1358 207M1342 207L1350 207M1350 207L1358 207M1358 207L1384 223M1384 223L1409 240M1342 207L1316 224M1316 224L1291 241M1450 223L1425 240M1282 241L1291 241M1291 241L1316 257M1316 257L1342 274M1409 240L1417 240M1417 240L1425 240M1425 240L1450 256M1450 256L1474 273M1409 240L1384 257M1384 257L1358 274M1342 274L1350 274M1350 274L1358 274M1358 274L1384 291M1342 274L1316 292M1316 292L1291 309M1474 273L1450 290M1450 290L1425 307M1274 309L1282 309M1282 309L1291 309M1291 309L1316 325M1417 307L1425 307M1425 307L1450 323M1450 323L1474 339M1384 324L1358 342M1350 342L1358 342M1358 342L1384 358M1384 358L1409 374M1316 360L1291 377M1474 339L1450 356M1450 356L1425 374M1274 378L1282 377M1282 377L1291 377M1291 377L1316 393M1316 393L1342 410M1409 374L1417 374M1417 374L1425 374M1425 374L1450 389M1409 374L1384 392M1384 392L1358 409M1342 410L1350 409M1350 409L1358 409M1358 409L1384 425M1384 425L1409 441M1342 410L1316 428M1316 428L1291 445M1450 423L1425 440M1282 446L1291 445M1409 441L1417 441M1417 441L1425 440"/>
<path stroke="#c66a22" stroke-width="1.5" d="M1486 111L1519 134M1605 91L1615 91M1657 113L1688 136M1605 91L1573 112M1519 134L1530 134M1573 157L1605 179M1519 134L1486 156M1688 136L1698 136M1688 136L1670 149M1644 166L1626 179M1486 201L1519 224M1605 179L1615 179M1615 179L1626 179M1626 179L1644 192M1670 210L1688 223M1605 179L1573 201M1519 224L1530 224M1573 246L1605 267M1519 224L1499 237M1473 255L1453 269M1688 223L1698 223M1698 223L1708 223M1688 223L1657 245M1453 269L1473 282M1499 300L1519 313M1605 267L1615 267M1657 289L1688 310M1605 267L1586 281M1560 299L1540 313M1519 313L1530 313M1530 313L1540 313M1540 313L1560 326M1586 343L1605 356M1519 313L1486 336M1688 310L1698 310M1688 310L1657 333M1486 381L1519 403M1605 356L1615 356M1657 376L1688 397M1605 356L1573 379M1519 403L1530 403M1573 423L1605 444M1519 403L1486 427M1688 397L1698 397M1688 397L1670 411M1644 430L1626 444M1486 471L1519 493M1605 444L1615 444M1615 444L1626 444M1626 444L1644 456M1670 472L1688 485M1605 444L1573 468M1519 493L1530 492M1573 512L1605 533M1519 493L1499 507M1473 526L1453 541M1688 485L1698 484M1698 484L1708 484M1688 485L1657 508M1605 533L1615 532M1389 300L1585 96M1389 238L1671 526M1389 142L1740 506M1433 538L1740 204M1523 95L1740 326M1610 96L1740 236M1695 524L1740 474M1708 223L1707 195M1540 313L1543 282M1463 122L1474 122M1463 122L1431 144M1676 146L1706 167M1597 187L1627 208M1706 167L1676 187M1627 208L1637 208M1627 208L1597 229M1378 252L1389 252M1515 315L1546 336M1431 359L1463 380M1546 336L1556 335M1546 336L1515 358M1463 380L1474 380M1463 380L1431 403M1676 395L1706 415M1597 440L1627 459M1706 415L1676 437M1627 459L1637 459M1627 459L1597 482M1378 513L1389 513M1412 112L1422 112M1462 133L1492 153M1412 112L1381 132M1571 114L1580 114M1580 114L1589 114M1589 114L1607 126M1630 142L1647 155M1571 114L1553 126M1529 142L1511 154M1381 173L1412 194M1492 153L1502 154M1502 154L1511 154M1511 154L1529 166M1553 182L1571 194M1492 153L1462 174M1647 155L1656 155M1647 155L1630 167M1607 182L1589 194M1412 194L1422 194M1462 215L1492 235M1412 194L1381 215M1571 194L1580 194M1580 194L1589 194M1589 194L1607 206M1630 222L1647 234M1571 194L1553 207M1529 223L1511 235M1381 256L1412 277M1492 235L1502 235M1502 235L1511 235M1511 235L1529 247M1553 263L1571 275M1492 235L1462 256M1647 234L1656 234M1647 234L1630 246M1607 263L1589 275M1412 277L1422 277M1462 297L1492 317M1412 277L1381 298M1571 275L1580 275M1580 275L1589 275M1589 275L1607 286M1630 302L1647 314M1571 275L1553 287M1529 304L1511 316M1381 339L1412 359M1492 317L1502 317M1502 317L1511 316M1511 316L1529 328M1553 344L1571 356M1492 317L1462 338M1647 314L1656 314M1647 314L1630 326M1607 343L1589 355M1412 359L1422 359M1462 379L1492 398M1412 359L1381 381M1571 356L1580 355M1580 355L1589 355M1589 355L1607 367M1630 382L1647 393M1571 356L1553 368M1529 385L1511 398M1381 422L1412 442M1492 398L1502 398M1502 398L1511 398M1511 398L1529 409M1553 425L1571 436M1492 398L1462 420M1647 393L1656 393M1647 393L1630 406M1607 423L1589 435M1412 442L1422 442M1462 461L1492 480M1412 442L1381 464M1571 436L1580 436M1580 436L1589 435M1589 435L1607 447M1630 462L1647 473M1571 436L1553 449M1529 466L1511 479M1492 480L1502 479M1502 479L1511 479M1647 473L1656 473M1589 114L1591 129M1589 275L1591 286M1589 435L1591 443M1364 102L1374 102M1413 122L1442 142M1518 104L1527 104M1565 124L1593 143M1518 104L1490 123M1442 142L1451 142M1490 162L1518 182M1442 142L1413 162M1593 143L1601 144M1593 143L1576 155M1553 170L1536 182M1364 181L1374 181M1413 201L1442 221M1518 182L1527 182M1527 182L1536 182M1536 182L1553 193M1576 209L1593 220M1518 182L1490 201M1442 221L1451 221M1490 240L1518 259M1442 221L1424 233M1401 249L1383 261M1593 220L1601 220M1601 220L1610 220M1593 220L1565 240M1364 261L1374 261M1374 261L1383 261M1383 261L1401 272M1424 288L1442 299M1518 259L1527 259M1565 278L1593 297M1518 259L1501 271M1478 287L1461 299M1442 299L1451 299M1451 299L1461 299M1461 299L1478 310M1501 326L1518 337M1442 299L1413 320M1593 297L1601 297M1593 297L1565 317M1364 340L1374 340M1413 359L1442 378M1518 337L1527 337M1565 355L1593 374M1518 337L1490 357M1442 378L1451 378M1490 396L1518 415M1442 378L1413 398M1593 374L1601 373M1593 374L1576 386M1553 402L1536 414M1364 420L1374 419M1413 438L1442 456M1518 415L1527 414M1527 414L1536 414M1536 414L1553 425M1576 439L1593 450M1518 415L1490 435M1442 456L1451 456M1490 474L1518 492M1442 456L1424 469M1401 486L1383 498M1593 450L1601 450M1601 450L1610 450M1593 450L1565 471M1364 499L1374 499M1374 499L1383 498M1518 492L1527 492M1327 399L1422 493M1327 288L1501 109M1327 233L1577 486M1327 150L1638 469M1366 496L1638 204M1445 108L1638 311M1523 109L1638 232M1599 485L1638 441M1536 182L1539 157M1383 261L1389 234M1396 132L1405 132M1396 132L1367 150M1586 152L1612 170M1515 189L1542 207M1612 170L1586 189M1542 207L1551 207M1542 207L1515 226M1320 246L1329 246M1442 301L1470 320M1367 340L1396 359M1470 320L1478 319M1470 320L1442 339M1396 359L1405 359M1396 359L1367 379M1586 372L1612 390M1515 412L1542 429M1612 390L1586 409M1542 429L1551 429M1542 429L1515 449M1320 476L1329 475M1352 122L1361 122M1397 140L1424 159M1352 122L1324 140M1494 123L1503 124M1503 124L1511 124M1511 124L1527 134M1548 149L1563 160M1494 123L1479 134M1457 148L1441 159M1324 176L1352 195M1424 159L1433 159M1433 159L1441 159M1441 159L1457 170M1479 184L1494 195M1424 159L1397 177M1563 160L1572 160M1563 160L1548 170M1527 184L1511 195M1352 195L1361 195M1397 213L1424 231M1352 195L1324 213M1494 195L1503 195M1503 195L1511 195M1511 195L1527 206M1548 220L1563 230M1494 195L1479 206M1457 220L1441 231M1324 250L1352 268M1424 231L1433 231M1433 231L1441 231M1441 231L1457 242M1479 256L1494 267M1424 231L1397 249M1563 230L1572 230M1563 230L1548 241M1527 256L1511 266M1352 268L1361 268M1397 286L1424 303M1352 268L1324 287M1494 267L1503 266M1503 266L1511 266M1511 266L1527 277M1548 291L1563 301M1494 267L1479 278M1457 292L1441 303M1324 323L1352 341M1424 303L1433 303M1433 303L1441 303M1441 303L1457 314M1479 328L1494 338M1424 303L1397 322M1563 301L1572 301M1563 301L1548 312M1527 327L1511 338M1352 341L1361 341M1397 358L1424 376M1352 341L1324 360M1494 338L1503 338M1503 338L1511 338M1511 338L1527 348M1548 362L1563 372M1494 338L1479 349M1457 364L1441 375M1324 397L1352 414M1424 376L1433 376M1433 376L1441 375M1441 375L1457 386M1479 399L1494 410M1424 376L1397 395M1563 372L1572 372M1563 372L1548 383M1527 398L1511 409M1352 414L1361 414M1397 431L1424 448M1352 414L1324 434M1494 410L1503 409M1503 409L1511 409M1511 409L1527 419M1548 433L1563 443M1494 410L1479 421M1457 436L1441 447M1424 448L1433 448M1433 448L1441 447M1563 443L1572 442M1441 231L1446 242M1441 375L1446 383M1312 113L1320 113M1355 131L1382 148M1450 114L1459 115M1492 132L1517 150M1450 114L1424 132M1382 148L1390 149M1424 166L1450 184M1382 148L1355 166M1517 150L1525 150M1517 150L1502 160M1482 173L1467 184M1312 183L1320 183M1355 201L1382 218M1450 184L1459 184M1459 184L1467 184M1467 184L1482 194M1502 208L1517 218M1450 184L1424 201M1382 218L1390 218M1424 236L1450 253M1382 218L1366 229M1345 243L1329 254M1517 218L1525 218M1525 218L1533 218M1517 218L1492 235M1312 254L1320 254M1320 254L1329 254M1329 254L1345 264M1366 278L1382 288M1450 253L1459 253M1492 270L1517 287M1450 253L1435 263M1414 278L1399 288M1382 288L1390 288M1390 288L1399 288M1399 288L1414 298M1435 312L1450 322M1382 288L1355 306M1517 287L1525 286M1517 287L1492 304M1312 325L1320 325M1355 341L1382 358M1450 322L1459 322M1492 338L1517 355M1450 322L1424 340M1382 358L1390 358M1424 375L1450 391M1382 358L1355 377M1517 355L1525 355M1517 355L1502 366M1482 380L1467 391M1312 395L1320 395M1355 412L1382 428M1450 391L1459 391M1459 391L1467 391M1467 391L1482 401M1502 414L1517 423M1450 391L1424 409M1382 428L1390 428M1424 444L1450 460M1382 428L1366 439M1345 454L1329 465M1517 423L1525 423M1525 423L1533 423M1517 423L1492 442M1312 466L1320 466M1320 466L1329 465M1450 460L1459 460M1279 377L1364 461M1279 278L1434 118M1279 229L1503 455M1279 155L1559 441M1313 463L1559 203M1385 118L1559 299M1455 119L1559 228M1523 455L1559 416M1533 423L1536 397M1342 139L1350 139M1342 139L1316 156M1450 190L1474 206M1474 206L1450 223M1274 241L1282 241M1384 291L1409 307M1316 325L1342 342M1409 307L1417 307M1409 307L1384 324M1342 342L1350 342M1342 342L1316 360M1450 389L1474 405M1474 405L1450 423M1274 446L1282 446"/>
<path stroke="#8549d2" stroke-width="1.9" d="M1607 81L1620 81M1620 81L1659 109M1553 108L1512 136M1808 85L1817 85M1847 101L1876 123M1777 100L1747 122M1512 136L1553 164M1706 138L1716 138M1747 154L1777 176M1659 165L1620 192M1910 140L1922 140M1876 155L1847 177M1607 192L1620 192M1620 192L1659 220M1553 220L1512 249M1808 192L1817 192M1847 208L1876 230M1777 209L1747 231M1512 249L1553 276M1706 247L1716 247M1747 263L1777 284M1659 275L1620 303M1910 246L1922 245M1876 262L1847 284M1607 304L1620 303M1620 303L1659 330M1553 333L1512 362M1808 300L1817 300M1847 316L1876 336M1777 317L1747 339M1512 362L1553 389M1706 357L1716 356M1747 372L1777 393M1659 386L1620 414M1910 351L1922 351M1876 368L1847 391M1607 415L1620 414M1620 414L1659 441M1553 445L1512 475M1808 408L1817 408M1847 423L1876 443M1777 425L1747 448M1512 475L1553 501M1706 466L1716 466M1747 481L1777 501M1659 496L1620 526M1910 457L1922 457M1876 475L1847 498M1607 526L1620 526M1620 526L1659 551M1553 557L1512 588M1808 516L1817 515M1847 530L1876 549M1777 534L1747 557M1706 576L1716 575M1910 563L1922 563M1620 81L1621 102M1621 102L1622 123M1820 210L1815 227M1620 303L1621 318M1621 318L1622 332M1820 418L1815 429M1620 526L1621 533M1621 533L1622 540M1533 69L1546 69M1546 69L1584 96M1732 73L1743 74M1743 74L1779 100M1683 98L1646 123M1634 123L1646 123M1646 123L1683 150M1584 149L1546 175M1826 126L1837 126M1793 141L1765 161M1533 175L1546 175M1546 175L1584 201M1727 176L1736 176M1765 191L1793 211M1683 202L1646 227M1634 227L1646 227M1646 227L1683 253M1599 243L1569 265M1821 227L1831 227M1779 252L1743 278M1528 281L1538 281M1569 296L1599 316M1732 278L1743 278M1743 278L1779 303M1698 294L1668 315M1629 332L1639 331M1668 346L1698 366M1584 359L1546 386M1826 327L1837 327M1779 354L1743 380M1533 387L1546 386M1546 386L1584 411M1732 381L1743 380M1743 380L1779 405M1683 408L1646 435M1634 436L1646 435M1646 435L1683 459M1584 464L1546 492M1826 428L1837 428M1793 445L1765 466M1533 492L1546 492M1546 492L1584 516M1727 483L1736 483M1765 497L1793 516M1683 511L1646 539M1634 540L1646 539M1646 539L1683 563M1599 558L1569 580M1821 529L1831 529M1779 557L1743 585M1528 598L1538 598M1732 586L1743 585M1546 175L1549 143M1549 143L1552 110M1743 278L1741 244M1741 244L1738 209M1546 386L1549 348M1549 348L1552 309M1741 442L1738 402M1549 553L1552 508M1564 110L1576 111M1576 111L1611 136M1611 136L1647 161M1516 135L1479 159M1738 113L1749 113M1749 113L1760 113M1760 113L1794 137M1738 113L1704 137M1704 137L1669 161M1455 159L1467 159M1467 159L1479 159M1479 159L1516 185M1516 185L1552 210M1647 161L1658 161M1658 161L1669 161M1669 161L1704 185M1647 161L1611 185M1611 185L1576 210M1794 185L1760 209M1552 210L1564 210M1564 210L1576 210M1576 210L1611 234M1611 234L1647 258M1552 210L1516 235M1516 235L1479 260M1749 209L1760 209M1760 209L1794 233M1794 233L1827 257M1704 234L1669 258M1467 260L1479 260M1479 260L1516 285M1516 285L1552 309M1647 258L1658 258M1658 258L1669 258M1669 258L1704 282M1704 282L1738 306M1647 258L1611 284M1611 284L1576 309M1827 257L1794 281M1794 281L1760 305M1552 309L1564 309M1564 309L1576 309M1576 309L1611 332M1552 309L1516 335M1516 335L1479 361M1738 306L1749 306M1749 306L1760 305M1760 305L1794 329M1794 329L1827 352M1738 306L1704 331M1704 331L1669 356M1455 361L1467 361M1467 361L1479 361M1479 361L1516 385M1658 356L1669 356M1669 356L1704 379M1704 379L1738 402M1611 382L1576 408M1827 352L1794 377M1794 377L1760 402M1564 408L1576 408M1576 408L1611 431M1611 431L1647 454M1516 435L1479 461M1738 402L1749 402M1749 402L1760 402M1760 402L1794 424M1738 402L1704 428M1704 428L1669 453M1455 462L1467 462M1467 462L1479 461M1479 461L1516 485M1516 485L1552 508M1647 454L1658 454M1658 454L1669 453M1669 453L1704 476M1647 454L1611 480M1611 480L1576 507M1794 472L1760 498M1552 508L1564 507M1564 507L1576 507M1576 507L1611 529M1611 529L1647 552M1552 508L1516 535M1516 535L1479 562M1749 498L1760 498M1760 498L1794 520M1794 520L1827 542M1704 525L1669 551M1467 562L1479 562M1647 552L1658 552M1658 552L1669 551M1669 161L1669 177M1669 177L1669 194M1479 260L1484 274M1484 274L1489 288M1669 356L1669 367M1669 367L1669 378M1479 461L1484 470M1484 470L1489 478M1500 99L1512 99M1512 99L1546 123M1454 122L1418 145M1709 116L1735 134M1649 115L1622 133M1418 145L1454 169M1622 161L1649 180M1546 170L1512 193M1765 148L1775 148M1735 162L1709 180M1500 193L1512 193M1512 193L1546 217M1454 217L1418 241M1709 207L1735 225M1649 208L1622 226M1418 241L1454 265M1622 254L1649 272M1546 264L1512 288M1765 239L1775 239M1735 253L1709 272M1500 288L1512 288M1512 288L1546 311M1454 313L1418 337M1709 299L1735 317M1649 300L1622 319M1418 337L1454 360M1622 347L1649 365M1546 358L1512 383M1765 330L1775 330M1735 344L1709 363M1500 383L1512 383M1512 383L1546 405M1454 408L1418 433M1709 391L1735 408M1649 393L1622 412M1418 433L1454 456M1622 440L1649 457M1546 452L1512 477M1765 421L1775 420M1735 436L1709 455M1500 478L1512 477M1512 477L1546 499M1454 504L1418 529M1709 482L1735 499M1649 485L1622 505M1765 512L1775 511M1604 163L1605 179M1418 241L1425 255M1425 255L1431 269M1604 345L1605 356M1418 433L1425 442M1425 442L1431 451M1604 526L1605 533M1442 88L1453 88M1442 179L1453 179M1442 360L1453 360M1442 451L1453 450M1389 205L1497 94"/>
<path stroke="#c66a22" stroke-width="1.9" d="M1594 81L1607 81M1659 109L1699 137M1594 81L1553 108M1800 85L1808 85M1817 85L1825 85M1825 85L1847 101M1876 123L1899 139M1800 85L1777 100M1747 122L1724 138M1553 164L1594 192M1699 137L1706 138M1716 138L1724 138M1724 138L1747 154M1777 176L1800 192M1699 137L1659 165M1899 139L1910 140M1899 139L1876 155M1847 177L1825 192M1594 192L1607 192M1659 220L1699 247M1594 192L1553 220M1800 192L1808 192M1817 192L1825 192M1825 192L1847 208M1876 230L1899 246M1800 192L1777 209M1747 231L1724 247M1553 276L1594 304M1699 247L1706 247M1716 247L1724 247M1724 247L1747 263M1777 284L1800 300M1699 247L1659 275M1899 246L1910 246M1899 246L1876 262M1847 284L1825 300M1594 304L1607 304M1659 330L1699 357M1594 304L1553 333M1800 300L1808 300M1817 300L1825 300M1825 300L1847 316M1876 336L1899 352M1800 300L1777 317M1747 339L1724 356M1553 389L1594 415M1699 357L1706 357M1716 356L1724 356M1724 356L1747 372M1777 393L1800 408M1699 357L1659 386M1899 352L1910 351M1899 352L1876 368M1847 391L1825 407M1594 415L1607 415M1659 441L1699 467M1594 415L1553 445M1800 408L1808 408M1817 408L1825 407M1825 407L1847 423M1876 443L1899 458M1800 408L1777 425M1747 448L1724 466M1553 501L1594 527M1699 467L1706 466M1716 466L1724 466M1724 466L1747 481M1777 501L1800 516M1699 467L1659 496M1899 458L1910 457M1899 458L1876 475M1847 498L1825 515M1594 527L1607 526M1659 551L1699 576M1594 527L1553 557M1800 516L1808 516M1817 515L1825 515M1825 515L1847 530M1876 549L1899 564M1800 516L1777 534M1747 557L1724 575M1699 576L1706 576M1716 575L1724 575M1899 564L1910 563M1825 192L1820 210M1825 407L1820 418M1521 69L1533 69M1584 96L1622 123M1720 73L1732 73M1779 100L1815 126M1720 73L1683 98M1622 123L1634 123M1683 150L1720 176M1622 123L1584 149M1815 126L1826 126M1815 126L1793 141M1765 161L1743 176M1521 175L1533 175M1584 201L1622 227M1720 176L1727 176M1736 176L1743 176M1743 176L1765 191M1793 211L1815 227M1720 176L1683 202M1622 227L1634 227M1683 253L1720 278M1622 227L1599 243M1569 265L1546 281M1815 227L1821 227M1831 227L1837 227M1815 227L1779 252M1521 281L1528 281M1538 281L1546 281M1546 281L1569 296M1599 316L1622 332M1720 278L1732 278M1779 303L1815 328M1720 278L1698 294M1668 315L1646 331M1622 332L1629 332M1639 331L1646 331M1646 331L1668 346M1698 366L1720 381M1622 332L1584 359M1815 328L1826 327M1815 328L1779 354M1521 387L1533 387M1584 411L1622 436M1720 381L1732 381M1779 405L1815 429M1720 381L1683 408M1622 436L1634 436M1683 459L1720 484M1622 436L1584 464M1815 429L1826 428M1815 429L1793 445M1765 466L1743 483M1521 493L1533 492M1584 516L1622 540M1720 484L1727 483M1736 483L1743 483M1743 483L1765 497M1793 516L1815 530M1720 484L1683 511M1622 540L1634 540M1683 563L1720 586M1622 540L1599 558M1569 580L1546 597M1815 530L1821 529M1831 529L1837 529M1815 530L1779 557M1521 599L1528 598M1538 598L1546 597M1720 586L1732 586M1743 483L1741 442M1546 597L1549 553M1552 110L1564 110M1552 110L1516 135M1794 137L1827 162M1704 185L1738 209M1827 162L1794 185M1738 209L1749 209M1738 209L1704 234M1455 260L1467 260M1611 332L1647 356M1516 385L1552 408M1647 356L1658 356M1647 356L1611 382M1552 408L1564 408M1552 408L1516 435M1794 424L1827 447M1704 476L1738 499M1827 447L1794 472M1738 499L1749 498M1738 499L1704 525M1455 563L1467 562M1489 98L1500 99M1546 123L1580 147M1489 98L1454 122M1669 101L1679 101M1679 101L1690 102M1690 102L1709 116M1735 134L1755 148M1669 101L1649 115M1622 133L1602 147M1454 169L1489 193M1580 147L1591 147M1591 147L1602 147M1602 147L1622 161M1649 180L1669 194M1580 147L1546 170M1755 148L1765 148M1755 148L1735 162M1709 180L1690 194M1489 193L1500 193M1546 217L1580 240M1489 193L1454 217M1669 194L1679 194M1679 194L1690 194M1690 194L1709 207M1735 225L1755 239M1669 194L1649 208M1622 226L1602 240M1454 265L1489 288M1580 240L1591 240M1591 240L1602 240M1602 240L1622 254M1649 272L1669 286M1580 240L1546 264M1755 239L1765 239M1755 239L1735 253M1709 272L1690 286M1489 288L1500 288M1546 311L1580 334M1489 288L1454 313M1669 286L1679 286M1679 286L1690 286M1690 286L1709 299M1735 317L1755 330M1669 286L1649 300M1622 319L1602 333M1454 360L1489 383M1580 334L1591 334M1591 334L1602 333M1602 333L1622 347M1649 365L1669 378M1580 334L1546 358M1755 330L1765 330M1755 330L1735 344M1709 363L1690 377M1489 383L1500 383M1546 405L1580 427M1489 383L1454 408M1669 378L1679 378M1679 378L1690 377M1690 377L1709 391M1735 408L1755 421M1669 378L1649 393M1622 412L1602 427M1454 456L1489 478M1580 427L1591 427M1591 427L1602 427M1602 427L1622 440M1649 457L1669 470M1580 427L1546 452M1755 421L1765 421M1755 421L1735 436M1709 455L1690 469M1489 478L1500 478M1546 499L1580 521M1489 478L1454 504M1669 470L1679 470M1679 470L1690 469M1690 469L1709 482M1735 499L1755 512M1669 470L1649 485M1622 505L1602 520M1580 521L1591 520M1591 520L1602 520M1755 512L1765 512M1602 147L1604 163M1602 333L1604 345M1602 520L1604 526M1431 88L1442 88M1431 178L1442 179M1431 269L1442 269M1442 269L1453 269M1431 360L1442 360M1431 451L1442 451M1431 542L1442 541M1442 541L1453 541M1389 428L1497 535"/>
</g>
<g fill="url(#atomg)">
<circle cx="1270" cy="177" r="2.4"/>
<circle cx="1270" cy="217" r="2.4"/>
<circle cx="1270" cy="257" r="2.4"/>
<circle cx="1270" cy="297" r="2.4"/>
<circle cx="1270" cy="337" r="2.4"/>
<circle cx="1240" cy="157" r="2.4"/>
<circle cx="1240" cy="197" r="2.4"/>
<circle cx="1240" cy="237" r="2.4"/>
<circle cx="1240" cy="277" r="2.4"/>
<circle cx="1240" cy="317" r="2.4"/>
<circle cx="1230" cy="157" r="2.4"/>
<circle cx="1230" cy="197" r="2.4"/>
<circle cx="1230" cy="237" r="2.4"/>
<circle cx="1230" cy="277" r="2.4"/>
<circle cx="1230" cy="317" r="2.4"/>
<circle cx="1283" cy="205" r="2.3"/>
<circle cx="1199" cy="177" r="2.4"/>
<circle cx="1199" cy="217" r="2.4"/>
<circle cx="1199" cy="258" r="2.4"/>
<circle cx="1199" cy="298" r="2.4"/>
<circle cx="1199" cy="338" r="2.4"/>
<circle cx="1189" cy="177" r="2.4"/>
<circle cx="1189" cy="217" r="2.4"/>
<circle cx="1189" cy="258" r="2.4"/>
<circle cx="1189" cy="298" r="2.4"/>
<circle cx="1189" cy="338" r="2.4"/>
<circle cx="1243" cy="306" r="2.3"/>
<circle cx="1148" cy="157" r="2.5"/>
<circle cx="1148" cy="197" r="2.5"/>
<circle cx="1148" cy="238" r="2.5"/>
<circle cx="1148" cy="278" r="2.5"/>
<circle cx="1148" cy="319" r="2.5"/>
<circle cx="1292" cy="184" r="2.5"/>
<circle cx="1292" cy="305" r="2.5"/>
<circle cx="1202" cy="327" r="2.3"/>
<circle cx="1251" cy="204" r="2.5"/>
<circle cx="1251" cy="326" r="2.5"/>
<circle cx="1160" cy="225" r="2.3"/>
<circle cx="1209" cy="266" r="2.5"/>
<circle cx="1264" cy="150" r="2.4"/>
<circle cx="1264" cy="356" r="2.4"/>
<circle cx="1167" cy="163" r="2.5"/>
<circle cx="1167" cy="287" r="2.5"/>
<circle cx="1222" cy="253" r="2.4"/>
<circle cx="1125" cy="225" r="2.5"/>
<circle cx="1125" cy="350" r="2.5"/>
<circle cx="1273" cy="169" r="2.5"/>
<circle cx="1273" cy="211" r="2.5"/>
<circle cx="1273" cy="253" r="2.5"/>
<circle cx="1273" cy="294" r="2.5"/>
<circle cx="1273" cy="336" r="2.5"/>
<circle cx="1180" cy="274" r="2.4"/>
<circle cx="1230" cy="148" r="2.5"/>
<circle cx="1230" cy="190" r="2.5"/>
<circle cx="1230" cy="232" r="2.5"/>
<circle cx="1230" cy="274" r="2.5"/>
<circle cx="1230" cy="316" r="2.5"/>
<circle cx="1230" cy="358" r="2.5"/>
<circle cx="1287" cy="240" r="2.4"/>
<circle cx="1188" cy="169" r="2.6"/>
<circle cx="1188" cy="211" r="2.6"/>
<circle cx="1188" cy="253" r="2.6"/>
<circle cx="1188" cy="295" r="2.6"/>
<circle cx="1188" cy="338" r="2.6"/>
<circle cx="1244" cy="261" r="2.4"/>
<circle cx="1306" cy="176" r="2.6"/>
<circle cx="1306" cy="218" r="2.6"/>
<circle cx="1306" cy="261" r="2.6"/>
<circle cx="1306" cy="303" r="2.6"/>
<circle cx="1306" cy="345" r="2.6"/>
<circle cx="1144" cy="148" r="2.6"/>
<circle cx="1144" cy="190" r="2.6"/>
<circle cx="1144" cy="232" r="2.6"/>
<circle cx="1144" cy="275" r="2.6"/>
<circle cx="1144" cy="317" r="2.6"/>
<circle cx="1144" cy="360" r="2.6"/>
<circle cx="1295" cy="176" r="2.6"/>
<circle cx="1295" cy="218" r="2.6"/>
<circle cx="1295" cy="261" r="2.6"/>
<circle cx="1295" cy="303" r="2.6"/>
<circle cx="1295" cy="346" r="2.6"/>
<circle cx="1201" cy="155" r="2.4"/>
<circle cx="1252" cy="154" r="2.6"/>
<circle cx="1252" cy="197" r="2.6"/>
<circle cx="1252" cy="240" r="2.6"/>
<circle cx="1252" cy="282" r="2.6"/>
<circle cx="1252" cy="325" r="2.6"/>
<circle cx="1310" cy="162" r="2.5"/>
<circle cx="1209" cy="175" r="2.6"/>
<circle cx="1209" cy="218" r="2.6"/>
<circle cx="1209" cy="262" r="2.6"/>
<circle cx="1209" cy="305" r="2.6"/>
<circle cx="1209" cy="348" r="2.6"/>
<circle cx="1267" cy="270" r="2.5"/>
<circle cx="1176" cy="154" r="2.6"/>
<circle cx="1176" cy="197" r="2.6"/>
<circle cx="1176" cy="240" r="2.6"/>
<circle cx="1176" cy="283" r="2.6"/>
<circle cx="1176" cy="327" r="2.6"/>
<circle cx="1165" cy="154" r="2.6"/>
<circle cx="1165" cy="197" r="2.6"/>
<circle cx="1165" cy="240" r="2.6"/>
<circle cx="1165" cy="284" r="2.6"/>
<circle cx="1165" cy="327" r="2.6"/>
<circle cx="1319" cy="183" r="2.6"/>
<circle cx="1319" cy="312" r="2.6"/>
<circle cx="1223" cy="292" r="2.5"/>
<circle cx="1131" cy="175" r="2.6"/>
<circle cx="1131" cy="219" r="2.6"/>
<circle cx="1131" cy="262" r="2.6"/>
<circle cx="1131" cy="306" r="2.6"/>
<circle cx="1131" cy="349" r="2.6"/>
<circle cx="1275" cy="204" r="2.6"/>
<circle cx="1275" cy="335" r="2.6"/>
<circle cx="1178" cy="183" r="2.5"/>
<circle cx="1231" cy="270" r="2.7"/>
<circle cx="1290" cy="323" r="2.5"/>
<circle cx="1186" cy="160" r="2.7"/>
<circle cx="1186" cy="293" r="2.7"/>
<circle cx="1245" cy="213" r="2.5"/>
<circle cx="1141" cy="227" r="2.7"/>
<circle cx="1141" cy="360" r="2.7"/>
<circle cx="1299" cy="167" r="2.7"/>
<circle cx="1299" cy="212" r="2.7"/>
<circle cx="1299" cy="256" r="2.7"/>
<circle cx="1299" cy="301" r="2.7"/>
<circle cx="1299" cy="345" r="2.7"/>
<circle cx="1200" cy="235" r="2.6"/>
<circle cx="1254" cy="145" r="2.7"/>
<circle cx="1254" cy="189" r="2.7"/>
<circle cx="1254" cy="234" r="2.7"/>
<circle cx="1254" cy="279" r="2.7"/>
<circle cx="1254" cy="324" r="2.7"/>
<circle cx="1254" cy="369" r="2.7"/>
<circle cx="1314" cy="198" r="2.6"/>
<circle cx="1208" cy="167" r="2.7"/>
<circle cx="1208" cy="212" r="2.7"/>
<circle cx="1208" cy="257" r="2.7"/>
<circle cx="1208" cy="302" r="2.7"/>
<circle cx="1208" cy="347" r="2.7"/>
<circle cx="1269" cy="220" r="2.6"/>
<circle cx="1162" cy="144" r="2.8"/>
<circle cx="1162" cy="189" r="2.8"/>
<circle cx="1162" cy="235" r="2.8"/>
<circle cx="1162" cy="280" r="2.8"/>
<circle cx="1162" cy="326" r="2.8"/>
<circle cx="1162" cy="371" r="2.8"/>
<circle cx="1324" cy="174" r="2.8"/>
<circle cx="1324" cy="220" r="2.8"/>
<circle cx="1324" cy="265" r="2.8"/>
<circle cx="1324" cy="311" r="2.8"/>
<circle cx="1324" cy="356" r="2.8"/>
<circle cx="1223" cy="335" r="2.6"/>
<circle cx="1289" cy="151" r="2.8"/>
<circle cx="1289" cy="197" r="2.8"/>
<circle cx="1289" cy="243" r="2.8"/>
<circle cx="1289" cy="288" r="2.8"/>
<circle cx="1289" cy="334" r="2.8"/>
<circle cx="1278" cy="151" r="2.8"/>
<circle cx="1278" cy="197" r="2.8"/>
<circle cx="1278" cy="243" r="2.8"/>
<circle cx="1278" cy="288" r="2.8"/>
<circle cx="1278" cy="334" r="2.8"/>
<circle cx="1340" cy="343" r="2.6"/>
<circle cx="1243" cy="174" r="2.8"/>
<circle cx="1243" cy="220" r="2.8"/>
<circle cx="1243" cy="266" r="2.8"/>
<circle cx="1243" cy="312" r="2.8"/>
<circle cx="1243" cy="358" r="2.8"/>
<circle cx="1232" cy="174" r="2.8"/>
<circle cx="1232" cy="220" r="2.8"/>
<circle cx="1232" cy="266" r="2.8"/>
<circle cx="1232" cy="312" r="2.8"/>
<circle cx="1232" cy="358" r="2.8"/>
<circle cx="1294" cy="229" r="2.7"/>
<circle cx="1185" cy="150" r="2.8"/>
<circle cx="1185" cy="197" r="2.8"/>
<circle cx="1185" cy="243" r="2.8"/>
<circle cx="1185" cy="290" r="2.8"/>
<circle cx="1185" cy="336" r="2.8"/>
<circle cx="1350" cy="181" r="2.8"/>
<circle cx="1350" cy="321" r="2.8"/>
<circle cx="1247" cy="252" r="2.7"/>
<circle cx="1303" cy="205" r="2.9"/>
<circle cx="1303" cy="345" r="2.9"/>
<circle cx="1199" cy="370" r="2.7"/>
<circle cx="1256" cy="275" r="2.9"/>
<circle cx="1319" cy="284" r="2.7"/>
<circle cx="1208" cy="157" r="2.9"/>
<circle cx="1208" cy="300" r="2.9"/>
<circle cx="1272" cy="166" r="2.7"/>
<circle cx="1159" cy="229" r="2.9"/>
<circle cx="1159" cy="372" r="2.9"/>
<circle cx="1330" cy="165" r="2.9"/>
<circle cx="1330" cy="213" r="2.9"/>
<circle cx="1330" cy="260" r="2.9"/>
<circle cx="1330" cy="308" r="2.9"/>
<circle cx="1330" cy="356" r="2.9"/>
<circle cx="1223" cy="190" r="2.8"/>
<circle cx="1281" cy="140" r="2.9"/>
<circle cx="1281" cy="189" r="2.9"/>
<circle cx="1281" cy="237" r="2.9"/>
<circle cx="1281" cy="285" r="2.9"/>
<circle cx="1281" cy="333" r="2.9"/>
<circle cx="1281" cy="382" r="2.9"/>
<circle cx="1346" cy="149" r="2.8"/>
<circle cx="1233" cy="164" r="3.0"/>
<circle cx="1233" cy="213" r="3.0"/>
<circle cx="1233" cy="261" r="3.0"/>
<circle cx="1233" cy="310" r="3.0"/>
<circle cx="1233" cy="359" r="3.0"/>
<circle cx="1298" cy="173" r="2.8"/>
<circle cx="1369" cy="172" r="3.0"/>
<circle cx="1369" cy="221" r="3.0"/>
<circle cx="1369" cy="270" r="3.0"/>
<circle cx="1369" cy="319" r="3.0"/>
<circle cx="1369" cy="368" r="3.0"/>
<circle cx="1183" cy="139" r="3.0"/>
<circle cx="1183" cy="188" r="3.0"/>
<circle cx="1183" cy="237" r="3.0"/>
<circle cx="1183" cy="286" r="3.0"/>
<circle cx="1183" cy="335" r="3.0"/>
<circle cx="1183" cy="384" r="3.0"/>
<circle cx="1357" cy="172" r="3.0"/>
<circle cx="1357" cy="221" r="3.0"/>
<circle cx="1357" cy="270" r="3.0"/>
<circle cx="1357" cy="319" r="3.0"/>
<circle cx="1357" cy="368" r="3.0"/>
<circle cx="1249" cy="296" r="2.8"/>
<circle cx="1308" cy="147" r="3.0"/>
<circle cx="1308" cy="197" r="3.0"/>
<circle cx="1308" cy="246" r="3.0"/>
<circle cx="1308" cy="295" r="3.0"/>
<circle cx="1308" cy="345" r="3.0"/>
<circle cx="1375" cy="305" r="2.9"/>
<circle cx="1258" cy="172" r="3.0"/>
<circle cx="1258" cy="221" r="3.0"/>
<circle cx="1258" cy="271" r="3.0"/>
<circle cx="1258" cy="321" r="3.0"/>
<circle cx="1258" cy="371" r="3.0"/>
<circle cx="1325" cy="181" r="2.9"/>
<circle cx="1220" cy="146" r="3.1"/>
<circle cx="1220" cy="196" r="3.1"/>
<circle cx="1220" cy="247" r="3.1"/>
<circle cx="1220" cy="297" r="3.1"/>
<circle cx="1220" cy="347" r="3.1"/>
<circle cx="1208" cy="146" r="3.1"/>
<circle cx="1208" cy="196" r="3.1"/>
<circle cx="1208" cy="247" r="3.1"/>
<circle cx="1208" cy="297" r="3.1"/>
<circle cx="1208" cy="347" r="3.1"/>
<circle cx="1386" cy="180" r="3.1"/>
<circle cx="1386" cy="330" r="3.1"/>
<circle cx="1275" cy="206" r="2.9"/>
<circle cx="1169" cy="171" r="3.1"/>
<circle cx="1169" cy="222" r="3.1"/>
<circle cx="1169" cy="272" r="3.1"/>
<circle cx="1169" cy="322" r="3.1"/>
<circle cx="1169" cy="373" r="3.1"/>
<circle cx="1336" cy="205" r="3.1"/>
<circle cx="1336" cy="356" r="3.1"/>
<circle cx="1224" cy="333" r="2.9"/>
<circle cx="1285" cy="281" r="3.1"/>
<circle cx="1354" cy="240" r="3.0"/>
<circle cx="1233" cy="154" r="3.1"/>
<circle cx="1233" cy="308" r="3.1"/>
<circle cx="1302" cy="369" r="3.0"/>
<circle cx="1181" cy="231" r="3.2"/>
<circle cx="1181" cy="386" r="3.2"/>
<circle cx="1365" cy="162" r="3.2"/>
<circle cx="1365" cy="214" r="3.2"/>
<circle cx="1365" cy="265" r="3.2"/>
<circle cx="1365" cy="317" r="3.2"/>
<circle cx="1365" cy="369" r="3.2"/>
<circle cx="1250" cy="137" r="3.0"/>
<circle cx="1250" cy="396" r="3.0"/>
<circle cx="1313" cy="135" r="3.2"/>
<circle cx="1313" cy="188" r="3.2"/>
<circle cx="1313" cy="240" r="3.2"/>
<circle cx="1313" cy="292" r="3.2"/>
<circle cx="1313" cy="344" r="3.2"/>
<circle cx="1313" cy="396" r="3.2"/>
<circle cx="1384" cy="355" r="3.0"/>
<circle cx="1261" cy="161" r="3.2"/>
<circle cx="1261" cy="214" r="3.2"/>
<circle cx="1261" cy="266" r="3.2"/>
<circle cx="1261" cy="319" r="3.2"/>
<circle cx="1261" cy="372" r="3.2"/>
<circle cx="1331" cy="382" r="3.1"/>
<circle cx="1207" cy="134" r="3.2"/>
<circle cx="1207" cy="187" r="3.2"/>
<circle cx="1207" cy="240" r="3.2"/>
<circle cx="1207" cy="294" r="3.2"/>
<circle cx="1207" cy="347" r="3.2"/>
<circle cx="1207" cy="400" r="3.2"/>
<circle cx="1396" cy="170" r="3.3"/>
<circle cx="1396" cy="223" r="3.3"/>
<circle cx="1396" cy="276" r="3.3"/>
<circle cx="1396" cy="329" r="3.3"/>
<circle cx="1396" cy="382" r="3.3"/>
<circle cx="1278" cy="251" r="3.1"/>
<circle cx="1356" cy="143" r="3.3"/>
<circle cx="1356" cy="196" r="3.3"/>
<circle cx="1356" cy="250" r="3.3"/>
<circle cx="1356" cy="303" r="3.3"/>
<circle cx="1356" cy="356" r="3.3"/>
<circle cx="1343" cy="143" r="3.3"/>
<circle cx="1343" cy="196" r="3.3"/>
<circle cx="1343" cy="250" r="3.3"/>
<circle cx="1343" cy="303" r="3.3"/>
<circle cx="1343" cy="357" r="3.3"/>
<circle cx="1415" cy="260" r="3.1"/>
<circle cx="1302" cy="169" r="3.3"/>
<circle cx="1302" cy="223" r="3.3"/>
<circle cx="1302" cy="277" r="3.3"/>
<circle cx="1302" cy="331" r="3.3"/>
<circle cx="1302" cy="385" r="3.3"/>
<circle cx="1289" cy="169" r="3.3"/>
<circle cx="1289" cy="223" r="3.3"/>
<circle cx="1289" cy="277" r="3.3"/>
<circle cx="1289" cy="331" r="3.3"/>
<circle cx="1289" cy="385" r="3.3"/>
<circle cx="1362" cy="396" r="3.1"/>
<circle cx="1235" cy="142" r="3.3"/>
<circle cx="1235" cy="196" r="3.3"/>
<circle cx="1235" cy="251" r="3.3"/>
<circle cx="1235" cy="305" r="3.3"/>
<circle cx="1235" cy="359" r="3.3"/>
<circle cx="1428" cy="178" r="3.3"/>
<circle cx="1428" cy="341" r="3.3"/>
<circle cx="1308" cy="152" r="3.2"/>
<circle cx="1374" cy="205" r="3.4"/>
<circle cx="1374" cy="370" r="3.4"/>
<circle cx="1252" cy="289" r="3.2"/>
<circle cx="1319" cy="288" r="3.4"/>
<circle cx="1394" cy="188" r="3.2"/>
<circle cx="1263" cy="150" r="3.4"/>
<circle cx="1263" cy="317" r="3.4"/>
<circle cx="1338" cy="328" r="3.3"/>
<circle cx="1207" cy="234" r="3.5"/>
<circle cx="1207" cy="403" r="3.5"/>
<circle cx="1407" cy="158" r="3.5"/>
<circle cx="1407" cy="215" r="3.5"/>
<circle cx="1407" cy="271" r="3.5"/>
<circle cx="1407" cy="328" r="3.5"/>
<circle cx="1407" cy="384" r="3.5"/>
<circle cx="1282" cy="357" r="3.3"/>
<circle cx="1351" cy="130" r="3.5"/>
<circle cx="1351" cy="187" r="3.5"/>
<circle cx="1351" cy="243" r="3.5"/>
<circle cx="1351" cy="300" r="3.5"/>
<circle cx="1351" cy="357" r="3.5"/>
<circle cx="1351" cy="414" r="3.5"/>
<circle cx="1428" cy="311" r="3.3"/>
<circle cx="1294" cy="158" r="3.5"/>
<circle cx="1294" cy="215" r="3.5"/>
<circle cx="1294" cy="272" r="3.5"/>
<circle cx="1294" cy="330" r="3.5"/>
<circle cx="1294" cy="387" r="3.5"/>
<circle cx="1371" cy="341" r="3.3"/>
<circle cx="1455" cy="167" r="3.6"/>
<circle cx="1455" cy="225" r="3.6"/>
<circle cx="1455" cy="283" r="3.6"/>
<circle cx="1455" cy="340" r="3.6"/>
<circle cx="1455" cy="398" r="3.6"/>
<circle cx="1236" cy="128" r="3.6"/>
<circle cx="1236" cy="186" r="3.6"/>
<circle cx="1236" cy="244" r="3.6"/>
<circle cx="1236" cy="302" r="3.6"/>
<circle cx="1236" cy="360" r="3.6"/>
<circle cx="1236" cy="418" r="3.6"/>
<circle cx="1441" cy="167" r="3.6"/>
<circle cx="1441" cy="225" r="3.6"/>
<circle cx="1441" cy="283" r="3.6"/>
<circle cx="1441" cy="341" r="3.6"/>
<circle cx="1441" cy="399" r="3.6"/>
<circle cx="1313" cy="197" r="3.4"/>
<circle cx="1384" cy="137" r="3.6"/>
<circle cx="1384" cy="196" r="3.6"/>
<circle cx="1384" cy="254" r="3.6"/>
<circle cx="1384" cy="313" r="3.6"/>
<circle cx="1384" cy="371" r="3.6"/>
<circle cx="1463" cy="207" r="3.4"/>
<circle cx="1326" cy="166" r="3.6"/>
<circle cx="1326" cy="225" r="3.6"/>
<circle cx="1326" cy="284" r="3.6"/>
<circle cx="1326" cy="343" r="3.6"/>
<circle cx="1326" cy="402" r="3.6"/>
<circle cx="1405" cy="355" r="3.4"/>
<circle cx="1281" cy="136" r="3.7"/>
<circle cx="1281" cy="196" r="3.7"/>
<circle cx="1281" cy="255" r="3.7"/>
<circle cx="1281" cy="315" r="3.7"/>
<circle cx="1281" cy="374" r="3.7"/>
<circle cx="1266" cy="136" r="3.7"/>
<circle cx="1266" cy="196" r="3.7"/>
<circle cx="1266" cy="255" r="3.7"/>
<circle cx="1266" cy="315" r="3.7"/>
<circle cx="1266" cy="374" r="3.7"/>
<circle cx="1478" cy="176" r="3.7"/>
<circle cx="1478" cy="355" r="3.7"/>
<circle cx="1347" cy="386" r="3.5"/>
<circle cx="1221" cy="166" r="3.7"/>
<circle cx="1221" cy="226" r="3.7"/>
<circle cx="1221" cy="286" r="3.7"/>
<circle cx="1221" cy="346" r="3.7"/>
<circle cx="1221" cy="405" r="3.7"/>
<circle cx="1419" cy="206" r="3.7"/>
<circle cx="1419" cy="386" r="3.7"/>
<circle cx="1286" cy="237" r="3.5"/>
<circle cx="1360" cy="297" r="3.7"/>
<circle cx="1442" cy="126" r="3.5"/>
<circle cx="1442" cy="430" r="3.5"/>
<circle cx="1299" cy="145" r="3.8"/>
<circle cx="1299" cy="328" r="3.8"/>
<circle cx="1381" cy="279" r="3.6"/>
<circle cx="1237" cy="237" r="3.8"/>
<circle cx="1237" cy="422" r="3.8"/>
<circle cx="1457" cy="154" r="3.8"/>
<circle cx="1457" cy="216" r="3.8"/>
<circle cx="1457" cy="278" r="3.8"/>
<circle cx="1457" cy="340" r="3.8"/>
<circle cx="1457" cy="402" r="3.8"/>
<circle cx="1320" cy="311" r="3.6"/>
<circle cx="1396" cy="123" r="3.9"/>
<circle cx="1396" cy="185" r="3.9"/>
<circle cx="1396" cy="248" r="3.9"/>
<circle cx="1396" cy="310" r="3.9"/>
<circle cx="1396" cy="372" r="3.9"/>
<circle cx="1396" cy="435" r="3.9"/>
<circle cx="1480" cy="260" r="3.7"/>
<circle cx="1333" cy="154" r="3.9"/>
<circle cx="1333" cy="217" r="3.9"/>
<circle cx="1333" cy="280" r="3.9"/>
<circle cx="1333" cy="343" r="3.9"/>
<circle cx="1333" cy="406" r="3.9"/>
<circle cx="1419" cy="292" r="3.7"/>
<circle cx="1270" cy="121" r="3.9"/>
<circle cx="1270" cy="185" r="3.9"/>
<circle cx="1270" cy="249" r="3.9"/>
<circle cx="1270" cy="312" r="3.9"/>
<circle cx="1270" cy="376" r="3.9"/>
<circle cx="1270" cy="439" r="3.9"/>
<circle cx="1496" cy="164" r="3.9"/>
<circle cx="1496" cy="227" r="3.9"/>
<circle cx="1496" cy="291" r="3.9"/>
<circle cx="1496" cy="355" r="3.9"/>
<circle cx="1496" cy="418" r="3.9"/>
<circle cx="1356" cy="133" r="3.7"/>
<circle cx="1449" cy="131" r="4.0"/>
<circle cx="1449" cy="196" r="4.0"/>
<circle cx="1449" cy="260" r="4.0"/>
<circle cx="1449" cy="324" r="4.0"/>
<circle cx="1449" cy="388" r="4.0"/>
<circle cx="1434" cy="131" r="4.0"/>
<circle cx="1434" cy="195" r="4.0"/>
<circle cx="1434" cy="260" r="4.0"/>
<circle cx="1434" cy="324" r="4.0"/>
<circle cx="1434" cy="388" r="4.0"/>
<circle cx="1521" cy="143" r="3.8"/>
<circle cx="1386" cy="163" r="4.0"/>
<circle cx="1386" cy="228" r="4.0"/>
<circle cx="1386" cy="293" r="4.0"/>
<circle cx="1386" cy="357" r="4.0"/>
<circle cx="1386" cy="422" r="4.0"/>
<circle cx="1370" cy="163" r="4.0"/>
<circle cx="1370" cy="228" r="4.0"/>
<circle cx="1370" cy="293" r="4.0"/>
<circle cx="1370" cy="358" r="4.0"/>
<circle cx="1370" cy="423" r="4.0"/>
<circle cx="1458" cy="306" r="3.8"/>
<circle cx="1305" cy="130" r="4.1"/>
<circle cx="1305" cy="195" r="4.1"/>
<circle cx="1305" cy="261" r="4.1"/>
<circle cx="1305" cy="327" r="4.1"/>
<circle cx="1305" cy="392" r="4.1"/>
<circle cx="1538" cy="174" r="4.1"/>
<circle cx="1538" cy="370" r="4.1"/>
<circle cx="1393" cy="340" r="3.9"/>
<circle cx="1474" cy="206" r="4.1"/>
<circle cx="1474" cy="405" r="4.1"/>
<circle cx="1328" cy="174" r="3.9"/>
<circle cx="1409" cy="307" r="4.2"/>
<circle cx="1500" cy="387" r="3.9"/>
<circle cx="1342" cy="139" r="4.2"/>
<circle cx="1342" cy="342" r="4.2"/>
<circle cx="1434" cy="219" r="4.0"/>
<circle cx="1274" cy="241" r="4.2"/>
<circle cx="1274" cy="446" r="4.2"/>
<circle cx="1517" cy="150" r="4.2"/>
<circle cx="1517" cy="218" r="4.2"/>
<circle cx="1517" cy="287" r="4.2"/>
<circle cx="1517" cy="355" r="4.2"/>
<circle cx="1517" cy="423" r="4.2"/>
<circle cx="1366" cy="254" r="4.0"/>
<circle cx="1450" cy="114" r="4.3"/>
<circle cx="1450" cy="184" r="4.3"/>
<circle cx="1450" cy="253" r="4.3"/>
<circle cx="1450" cy="322" r="4.3"/>
<circle cx="1450" cy="391" r="4.3"/>
<circle cx="1450" cy="460" r="4.3"/>
<circle cx="1544" cy="197" r="4.1"/>
<circle cx="1382" cy="148" r="4.3"/>
<circle cx="1382" cy="218" r="4.3"/>
<circle cx="1382" cy="288" r="4.3"/>
<circle cx="1382" cy="358" r="4.3"/>
<circle cx="1382" cy="428" r="4.3"/>
<circle cx="1477" cy="232" r="4.1"/>
<circle cx="1580" cy="160" r="4.4"/>
<circle cx="1580" cy="230" r="4.4"/>
<circle cx="1580" cy="301" r="4.4"/>
<circle cx="1580" cy="371" r="4.4"/>
<circle cx="1580" cy="442" r="4.4"/>
<circle cx="1312" cy="113" r="4.4"/>
<circle cx="1312" cy="183" r="4.4"/>
<circle cx="1312" cy="254" r="4.4"/>
<circle cx="1312" cy="325" r="4.4"/>
<circle cx="1312" cy="395" r="4.4"/>
<circle cx="1312" cy="466" r="4.4"/>
<circle cx="1563" cy="160" r="4.4"/>
<circle cx="1563" cy="230" r="4.4"/>
<circle cx="1563" cy="301" r="4.4"/>
<circle cx="1563" cy="372" r="4.4"/>
<circle cx="1563" cy="443" r="4.4"/>
<circle cx="1407" cy="410" r="4.2"/>
<circle cx="1494" cy="123" r="4.4"/>
<circle cx="1494" cy="195" r="4.4"/>
<circle cx="1494" cy="267" r="4.4"/>
<circle cx="1494" cy="338" r="4.4"/>
<circle cx="1494" cy="410" r="4.4"/>
<circle cx="1592" cy="424" r="4.2"/>
<circle cx="1424" cy="159" r="4.5"/>
<circle cx="1424" cy="231" r="4.5"/>
<circle cx="1424" cy="303" r="4.5"/>
<circle cx="1424" cy="376" r="4.5"/>
<circle cx="1424" cy="448" r="4.5"/>
<circle cx="1522" cy="245" r="4.3"/>
<circle cx="1370" cy="122" r="4.5"/>
<circle cx="1370" cy="195" r="4.5"/>
<circle cx="1370" cy="268" r="4.5"/>
<circle cx="1370" cy="341" r="4.5"/>
<circle cx="1370" cy="414" r="4.5"/>
<circle cx="1352" cy="122" r="4.6"/>
<circle cx="1352" cy="195" r="4.6"/>
<circle cx="1352" cy="268" r="4.6"/>
<circle cx="1352" cy="341" r="4.6"/>
<circle cx="1352" cy="414" r="4.6"/>
<circle cx="1612" cy="170" r="4.6"/>
<circle cx="1612" cy="390" r="4.6"/>
<circle cx="1451" cy="282" r="4.3"/>
<circle cx="1297" cy="158" r="4.6"/>
<circle cx="1297" cy="232" r="4.6"/>
<circle cx="1297" cy="305" r="4.6"/>
<circle cx="1297" cy="379" r="4.6"/>
<circle cx="1297" cy="453" r="4.6"/>
<circle cx="1542" cy="207" r="4.6"/>
<circle cx="1542" cy="429" r="4.6"/>
<circle cx="1378" cy="469" r="4.4"/>
<circle cx="1470" cy="320" r="4.7"/>
<circle cx="1572" cy="334" r="4.4"/>
<circle cx="1396" cy="132" r="4.7"/>
<circle cx="1396" cy="359" r="4.7"/>
<circle cx="1498" cy="145" r="4.5"/>
<circle cx="1320" cy="246" r="4.8"/>
<circle cx="1320" cy="476" r="4.8"/>
<circle cx="1593" cy="143" r="4.8"/>
<circle cx="1593" cy="220" r="4.8"/>
<circle cx="1593" cy="297" r="4.8"/>
<circle cx="1593" cy="374" r="4.8"/>
<circle cx="1593" cy="450" r="4.8"/>
<circle cx="1423" cy="183" r="4.5"/>
<circle cx="1518" cy="104" r="4.8"/>
<circle cx="1518" cy="182" r="4.8"/>
<circle cx="1518" cy="259" r="4.8"/>
<circle cx="1518" cy="337" r="4.8"/>
<circle cx="1518" cy="415" r="4.8"/>
<circle cx="1518" cy="492" r="4.8"/>
<circle cx="1624" cy="118" r="4.6"/>
<circle cx="1442" cy="142" r="4.9"/>
<circle cx="1442" cy="221" r="4.9"/>
<circle cx="1442" cy="299" r="4.9"/>
<circle cx="1442" cy="378" r="4.9"/>
<circle cx="1442" cy="456" r="4.9"/>
<circle cx="1549" cy="157" r="4.7"/>
<circle cx="1364" cy="102" r="5.0"/>
<circle cx="1364" cy="181" r="5.0"/>
<circle cx="1364" cy="261" r="5.0"/>
<circle cx="1364" cy="340" r="5.0"/>
<circle cx="1364" cy="420" r="5.0"/>
<circle cx="1364" cy="499" r="5.0"/>
<circle cx="1647" cy="155" r="5.0"/>
<circle cx="1647" cy="234" r="5.0"/>
<circle cx="1647" cy="314" r="5.0"/>
<circle cx="1647" cy="393" r="5.0"/>
<circle cx="1647" cy="473" r="5.0"/>
<circle cx="1472" cy="356" r="4.7"/>
<circle cx="1589" cy="114" r="5.0"/>
<circle cx="1589" cy="194" r="5.0"/>
<circle cx="1589" cy="275" r="5.0"/>
<circle cx="1589" cy="355" r="5.0"/>
<circle cx="1589" cy="435" r="5.0"/>
<circle cx="1571" cy="114" r="5.0"/>
<circle cx="1571" cy="194" r="5.0"/>
<circle cx="1571" cy="275" r="5.0"/>
<circle cx="1571" cy="356" r="5.0"/>
<circle cx="1571" cy="436" r="5.0"/>
<circle cx="1681" cy="372" r="4.8"/>
<circle cx="1511" cy="154" r="5.1"/>
<circle cx="1511" cy="235" r="5.1"/>
<circle cx="1511" cy="316" r="5.1"/>
<circle cx="1511" cy="398" r="5.1"/>
<circle cx="1511" cy="479" r="5.1"/>
<circle cx="1492" cy="153" r="5.1"/>
<circle cx="1492" cy="235" r="5.1"/>
<circle cx="1492" cy="317" r="5.1"/>
<circle cx="1492" cy="398" r="5.1"/>
<circle cx="1492" cy="480" r="5.1"/>
<circle cx="1604" cy="169" r="4.9"/>
<circle cx="1412" cy="112" r="5.2"/>
<circle cx="1412" cy="194" r="5.2"/>
<circle cx="1412" cy="277" r="5.2"/>
<circle cx="1412" cy="359" r="5.2"/>
<circle cx="1412" cy="442" r="5.2"/>
<circle cx="1706" cy="167" r="5.2"/>
<circle cx="1706" cy="415" r="5.2"/>
<circle cx="1524" cy="210" r="4.9"/>
<circle cx="1627" cy="208" r="5.3"/>
<circle cx="1627" cy="459" r="5.3"/>
<circle cx="1443" cy="420" r="5.0"/>
<circle cx="1546" cy="336" r="5.3"/>
<circle cx="1663" cy="267" r="5.1"/>
<circle cx="1463" cy="122" r="5.4"/>
<circle cx="1463" cy="380" r="5.4"/>
<circle cx="1581" cy="484" r="5.1"/>
<circle cx="1378" cy="252" r="5.5"/>
<circle cx="1378" cy="513" r="5.5"/>
<circle cx="1688" cy="136" r="5.5"/>
<circle cx="1688" cy="223" r="5.5"/>
<circle cx="1688" cy="310" r="5.5"/>
<circle cx="1688" cy="397" r="5.5"/>
<circle cx="1688" cy="485" r="5.5"/>
<circle cx="1496" cy="93" r="5.2"/>
<circle cx="1496" cy="532" r="5.2"/>
<circle cx="1605" cy="91" r="5.6"/>
<circle cx="1605" cy="179" r="5.6"/>
<circle cx="1605" cy="267" r="5.6"/>
<circle cx="1605" cy="356" r="5.6"/>
<circle cx="1605" cy="444" r="5.6"/>
<circle cx="1605" cy="533" r="5.6"/>
<circle cx="1727" cy="463" r="5.3"/>
<circle cx="1519" cy="134" r="5.6"/>
<circle cx="1519" cy="224" r="5.6"/>
<circle cx="1519" cy="313" r="5.6"/>
<circle cx="1519" cy="403" r="5.6"/>
<circle cx="1519" cy="493" r="5.6"/>
<circle cx="1642" cy="511" r="5.4"/>
<circle cx="1775" cy="148" r="5.7"/>
<circle cx="1775" cy="239" r="5.7"/>
<circle cx="1775" cy="330" r="5.7"/>
<circle cx="1775" cy="420" r="5.7"/>
<circle cx="1775" cy="511" r="5.7"/>
<circle cx="1431" cy="88" r="5.7"/>
<circle cx="1431" cy="178" r="5.7"/>
<circle cx="1431" cy="269" r="5.7"/>
<circle cx="1431" cy="360" r="5.7"/>
<circle cx="1431" cy="451" r="5.7"/>
<circle cx="1431" cy="542" r="5.7"/>
<circle cx="1755" cy="148" r="5.7"/>
<circle cx="1755" cy="239" r="5.7"/>
<circle cx="1755" cy="330" r="5.7"/>
<circle cx="1755" cy="421" r="5.7"/>
<circle cx="1755" cy="512" r="5.7"/>
<circle cx="1555" cy="287" r="5.4"/>
<circle cx="1669" cy="101" r="5.8"/>
<circle cx="1669" cy="194" r="5.8"/>
<circle cx="1669" cy="286" r="5.8"/>
<circle cx="1669" cy="378" r="5.8"/>
<circle cx="1669" cy="470" r="5.8"/>
<circle cx="1796" cy="304" r="5.5"/>
<circle cx="1580" cy="147" r="5.9"/>
<circle cx="1580" cy="240" r="5.9"/>
<circle cx="1580" cy="334" r="5.9"/>
<circle cx="1580" cy="427" r="5.9"/>
<circle cx="1580" cy="521" r="5.9"/>
<circle cx="1709" cy="541" r="5.6"/>
<circle cx="1512" cy="99" r="6.0"/>
<circle cx="1512" cy="193" r="6.0"/>
<circle cx="1512" cy="288" r="6.0"/>
<circle cx="1512" cy="383" r="6.0"/>
<circle cx="1512" cy="477" r="6.0"/>
<circle cx="1489" cy="98" r="6.0"/>
<circle cx="1489" cy="193" r="6.0"/>
<circle cx="1489" cy="288" r="6.0"/>
<circle cx="1489" cy="383" r="6.0"/>
<circle cx="1489" cy="478" r="6.0"/>
<circle cx="1827" cy="162" r="6.0"/>
<circle cx="1827" cy="447" r="6.0"/>
<circle cx="1619" cy="116" r="5.7"/>
<circle cx="1418" cy="145" r="6.1"/>
<circle cx="1418" cy="241" r="6.1"/>
<circle cx="1418" cy="337" r="6.1"/>
<circle cx="1418" cy="433" r="6.1"/>
<circle cx="1418" cy="529" r="6.1"/>
<circle cx="1738" cy="209" r="6.1"/>
<circle cx="1738" cy="499" r="6.1"/>
<circle cx="1526" cy="357" r="5.8"/>
<circle cx="1647" cy="356" r="6.2"/>
<circle cx="1782" cy="179" r="5.9"/>
<circle cx="1552" cy="110" r="6.3"/>
<circle cx="1552" cy="408" r="6.3"/>
<circle cx="1689" cy="429" r="6.0"/>
<circle cx="1455" cy="260" r="6.4"/>
<circle cx="1455" cy="563" r="6.4"/>
<circle cx="1815" cy="126" r="6.4"/>
<circle cx="1815" cy="227" r="6.4"/>
<circle cx="1815" cy="328" r="6.4"/>
<circle cx="1815" cy="429" r="6.4"/>
<circle cx="1815" cy="530" r="6.4"/>
<circle cx="1593" cy="483" r="6.1"/>
<circle cx="1720" cy="73" r="6.5"/>
<circle cx="1720" cy="176" r="6.5"/>
<circle cx="1720" cy="278" r="6.5"/>
<circle cx="1720" cy="381" r="6.5"/>
<circle cx="1720" cy="484" r="6.5"/>
<circle cx="1720" cy="586" r="6.5"/>
<circle cx="1862" cy="402" r="6.2"/>
<circle cx="1622" cy="123" r="6.6"/>
<circle cx="1622" cy="227" r="6.6"/>
<circle cx="1622" cy="332" r="6.6"/>
<circle cx="1622" cy="436" r="6.6"/>
<circle cx="1622" cy="540" r="6.6"/>
<circle cx="1766" cy="458" r="6.3"/>
<circle cx="1521" cy="69" r="6.7"/>
<circle cx="1521" cy="175" r="6.7"/>
<circle cx="1521" cy="281" r="6.7"/>
<circle cx="1521" cy="387" r="6.7"/>
<circle cx="1521" cy="493" r="6.7"/>
<circle cx="1521" cy="599" r="6.7"/>
<circle cx="1899" cy="139" r="6.7"/>
<circle cx="1899" cy="246" r="6.7"/>
<circle cx="1899" cy="352" r="6.7"/>
<circle cx="1899" cy="458" r="6.7"/>
<circle cx="1899" cy="564" r="6.7"/>
<circle cx="1666" cy="195" r="6.4"/>
<circle cx="1825" cy="85" r="6.8"/>
<circle cx="1825" cy="192" r="6.8"/>
<circle cx="1825" cy="300" r="6.8"/>
<circle cx="1825" cy="407" r="6.8"/>
<circle cx="1825" cy="515" r="6.8"/>
<circle cx="1800" cy="85" r="6.9"/>
<circle cx="1800" cy="192" r="6.9"/>
<circle cx="1800" cy="300" r="6.9"/>
<circle cx="1800" cy="408" r="6.9"/>
<circle cx="1800" cy="516" r="6.9"/>
<circle cx="1724" cy="138" r="6.9"/>
<circle cx="1724" cy="247" r="6.9"/>
<circle cx="1724" cy="356" r="6.9"/>
<circle cx="1724" cy="466" r="6.9"/>
<circle cx="1724" cy="575" r="6.9"/>
<circle cx="1699" cy="137" r="7.0"/>
<circle cx="1699" cy="247" r="7.0"/>
<circle cx="1699" cy="357" r="7.0"/>
<circle cx="1699" cy="467" r="7.0"/>
<circle cx="1699" cy="576" r="7.0"/>
<circle cx="1594" cy="81" r="7.1"/>
<circle cx="1594" cy="192" r="7.1"/>
<circle cx="1594" cy="304" r="7.1"/>
<circle cx="1594" cy="415" r="7.1"/>
<circle cx="1594" cy="527" r="7.1"/>
</g>
</g>
<g fill="none" stroke="#000" stroke-width="6.6" stroke-linejoin="miter">
<path d="M1506.8 67.5 L1927 75 L1929 592 L1506.8 621 Z"/>
<path d="M1113 158.7 L1506.8 67.5 M1122 364 L1506.8 621" stroke-width="5.8"/>
</g>
<g font-size="80" font-style="italic" fill="#000">
<text x="1136" y="125.8">z</text>
<text x="1527" y="583.7">y</text>
<text x="1787.5" y="671.4">x</text>
</g>
</g>
<g id="plot-b">
<rect x="228.7" y="1430.2" width="1742.6" height="1139.8" fill="none" stroke="#000" stroke-width="8.6"/>
<g stroke="#505050" stroke-width="2.8">
<line x1="207.0" y1="1431.3" x2="224.7" y2="1431.3"/>
<line x1="218.0" y1="1545.2" x2="224.7" y2="1545.2"/>
<line x1="207.0" y1="1659.0" x2="224.7" y2="1659.0"/>
<line x1="218.0" y1="1772.9" x2="224.7" y2="1772.9"/>
<line x1="207.0" y1="1886.8" x2="224.7" y2="1886.8"/>
<line x1="218.0" y1="2000.7" x2="224.7" y2="2000.7"/>
<line x1="207.0" y1="2114.5" x2="224.7" y2="2114.5"/>
<line x1="218.0" y1="2228.4" x2="224.7" y2="2228.4"/>
<line x1="207.0" y1="2342.3" x2="224.7" y2="2342.3"/>
<line x1="218.0" y1="2456.1" x2="224.7" y2="2456.1"/>
<line x1="207.0" y1="2570.0" x2="224.7" y2="2570.0"/>
<line x1="229.3" y1="2574.0" x2="229.3" y2="2589.5"/>
<line x1="345.4" y1="2574.0" x2="345.4" y2="2580.0"/>
<line x1="461.5" y1="2574.0" x2="461.5" y2="2589.5"/>
<line x1="577.6" y1="2574.0" x2="577.6" y2="2580.0"/>
<line x1="693.7" y1="2574.0" x2="693.7" y2="2589.5"/>
<line x1="809.8" y1="2574.0" x2="809.8" y2="2580.0"/>
<line x1="926.0" y1="2574.0" x2="926.0" y2="2589.5"/>
<line x1="1042.1" y1="2574.0" x2="1042.1" y2="2580.0"/>
<line x1="1158.2" y1="2574.0" x2="1158.2" y2="2589.5"/>
<line x1="1274.3" y1="2574.0" x2="1274.3" y2="2580.0"/>
<line x1="1390.4" y1="2574.0" x2="1390.4" y2="2589.5"/>
<line x1="1506.5" y1="2574.0" x2="1506.5" y2="2580.0"/>
<line x1="1622.6" y1="2574.0" x2="1622.6" y2="2589.5"/>
<line x1="1738.7" y1="2574.0" x2="1738.7" y2="2580.0"/>
<line x1="1854.8" y1="2574.0" x2="1854.8" y2="2589.5"/>
<line x1="1971.0" y1="2574.0" x2="1971.0" y2="2580.0"/>
</g>
<g font-size="63" fill="#000">
<text transform="translate(199.8 1461.0) scale(1 1.065)" text-anchor="end">2.5</text>
<text transform="translate(199.8 1674.7) scale(1 1.065)" text-anchor="end">2.0</text>
<text transform="translate(199.8 1907.8) scale(1 1.065)" text-anchor="end">1.5</text>
<text transform="translate(199.8 2142.7) scale(1 1.065)" text-anchor="end">1.0</text>
<text transform="translate(199.8 2369.0) scale(1 1.065)" text-anchor="end">0.5</text>
<text transform="translate(199.8 2583.4) scale(1 1.065)" text-anchor="end">0.0</text>
<text transform="translate(203.4 2660.9) scale(1 1.065)" text-anchor="middle">1940</text>
<text transform="translate(479.8 2660.9) scale(1 1.065)" text-anchor="middle">1950</text>
<text transform="translate(693.6 2660.9) scale(1 1.065)" text-anchor="middle">196</text>
<text transform="translate(927.2 2660.9) scale(1 1.065)" text-anchor="middle">1970</text>
<text transform="translate(1157.9 2660.9) scale(1 1.065)" text-anchor="middle">1980</text>
<text transform="translate(1389.6 2660.9) scale(1 1.065)" text-anchor="middle">1990</text>
<text transform="translate(1620.4 2660.9) scale(1 1.065)" text-anchor="middle">2000</text>
<text transform="translate(1870.0 2660.9) scale(1 1.065)" text-anchor="middle">2010</text>
<text transform="translate(407.5 1536.3) scale(1 1.000)" font-weight="bold" font-size="86">(b)</text>
<text transform="translate(79.5 2128) rotate(-90)" font-size="65"><tspan font-style="italic">ZT</tspan><tspan font-size="44.5" dy="5.5" dx="-2.5">MAX</tspan></text>
</g>
<g id="b-markers">
<circle cx="392.0" cy="2445.6" r="21.2" fill="#0637ee"/>
<circle cx="694.3" cy="2251.0" r="21.2" fill="#0637ee"/>
<circle cx="809.6" cy="2205.6" r="21.2" fill="#0637ee"/>
<circle cx="972.8" cy="2136.8" r="21.2" fill="#0637ee"/>
<circle cx="1808.7" cy="1886.8" r="21.2" fill="#0637ee"/>
<polygon points="462.2,2411.5 435.4,2456.3 488.9,2456.3" fill="#fe0000"/>
<polygon points="624.6,2320.7 597.9,2365.0 651.4,2365.0" fill="#fe0000"/>
<polygon points="694.6,2178.5 667.9,2224.8 721.4,2224.8" fill="#fe0000"/>
<polygon points="1158.6,2261.5 1131.8,2306.0 1185.3,2306.0" fill="#fe0000"/>
<polygon points="1414.0,2261.5 1387.2,2306.0 1440.8,2306.0" fill="#fe0000"/>
<polygon points="1460.3,2107.2 1433.5,2151.5 1487.0,2151.5" fill="#fe0000"/>
<polygon points="1808.8,2092.0 1782.0,2137.4 1835.5,2137.4" fill="#fe0000"/>
<polygon points="1808.8,1773.9 1782.0,1818.4 1835.5,1818.4" fill="#fe0000"/>
<polygon points="1715.8,1773.9 1689.0,1818.4 1742.5,1818.4" fill="#fe0000"/>
<polygon points="1902.0,1545.4 1875.2,1590.8 1928.8,1590.8" fill="#fe0000"/>
</g>
<g fill="none" stroke-width="5.8">
<path d="M962.3 2132.7 L394.4 2456.3" stroke="#000" stroke-dasharray="26.4 15.73"/>
<path d="M975.6 2130.3 L1616 2130.3" stroke="#000" stroke-dasharray="27.6 16"/>
<path d="M1628.7 2131.4 L1898.5 1588" stroke="#000" stroke-dasharray="22 17"/>
<path d="M1192.3 2290.9 L1697 2290.9" stroke="#fe0000" stroke-width="4.3" stroke-dasharray="25 18.4"/>
<path d="M1710.4 2285.8 L1790 2131.4" stroke="#fe0000" stroke-width="4.3" stroke-dasharray="22 17"/>
</g>
<g id="b-text">
<text id="l_znsb" transform="translate(347.3 2501.0) scale(0.9250 1)" font-size="41.5" fill="#1670ff">ZnSb</text>
<text id="l_mnte" transform="translate(502.5 2450.2) scale(1.0721 1)" font-size="38.6" fill="#fe0000">MnTe</text>
<text id="l_pbte1" transform="translate(508.5 2336.2) scale(0.9660 1)" font-size="38.6" fill="#fe0000">PbTe</text>
<text id="l_pbte2" transform="translate(578.3 2220.4) scale(0.9512 1)" font-size="38.6" fill="#fe0000">PbTe</text>
<text id="l_bi1" transform="translate(739.2 2296.5) scale(0.9109 1)" font-size="41.5" fill="#1670ff">Bi<tspan font-size="31.1" dy="11">2</tspan><tspan dy="-11">Te</tspan><tspan font-size="31.1" dy="11">3</tspan></text>
<text id="l_bi2" transform="translate(860.3 2228.5) scale(0.9100 1)" font-size="41.5" fill="#1670ff">Bi<tspan font-size="31.1" dy="11">2</tspan><tspan dy="-11">Te</tspan><tspan font-size="31.1" dy="11">3</tspan></text>
<text id="l_bi3" transform="translate(840.7 2113.5) scale(0.9100 1)" font-size="41.5" fill="#1670ff">Bi<tspan font-size="31.1" dy="11">2</tspan><tspan dy="-11">Te</tspan><tspan font-size="31.1" dy="11">3</tspan></text>
<text id="l_power" transform="translate(530.6 2006.9) scale(0.9969 1)" font-size="38.6" fill="#fe0000">Power generation</text>
<text id="l_cool" transform="translate(848.5 1885.6) scale(0.9583 1)" font-size="41.5" fill="#1670ff">Cooling</text>
<text id="l_sige1" transform="translate(1117.6 2252.5) scale(0.9671 1)" font-size="38.6" fill="#fe0000">SiGe</text>
<text id="l_sige2" transform="translate(1370.3 2251.0) scale(0.9671 1)" font-size="38.6" fill="#fe0000">SiGe</text>
<text id="l_zn4" transform="translate(1398.4 2087.5) scale(1.0068 1)" font-size="38.6" fill="#fe0000">Zn<tspan font-size="29.0" dy="11">4</tspan><tspan dy="-11">Sb</tspan><tspan font-size="29.0" dy="11">3</tspan></text>
<text id="l_nsige" transform="translate(1713.4 2080.0) scale(0.9995 1)" font-size="38.6" fill="#fe0000">Nano-SiGe</text>
<text id="l_nbi" transform="translate(1747.4 1944.3) scale(0.9373 1)" font-size="41.5" fill="#1670ff">Nano-Bi<tspan font-size="31.1" dy="11">2</tspan><tspan dy="-11">Te</tspan><tspan font-size="31.1" dy="11">3</tspan></text>
<text id="l_ri" transform="translate(1824.8 1787.5) scale(0.8662 1)" font-size="38.6" fill="#fe0000">R.I. PbTe</text>
<text id="l_npbte" transform="translate(1492.8 1807.2) scale(0.9970 1)" font-size="38.6" fill="#fe0000">Nano-PbTe</text>
<text id="l_hier" transform="translate(1570.6 1578.4) scale(1.0001 1)" font-size="38.6" fill="#fe0000">Hierarchical PbTe</text>
<text id="l_hicks" transform="translate(1266.9 2408.6) scale(0.9259 1)" font-size="41.5" fill="#1c1c1c">Hicks and Dresselhaus</text>
</g>
<line x1="681.2" y1="2020.2" x2="681.2" y2="2161.2" stroke="#fe0000" stroke-width="3.2"/><polygon points="681.2,2171.0 670.5,2151.5 681.2,2157.3 692.0,2151.5" fill="#fe0000"/>
<line x1="919.9" y1="1901.1" x2="960.4" y2="2101.4" stroke="#0d55ff" stroke-width="3.0"/><polygon points="962.3,2111.0 948.4,2093.9 959.6,2097.6 968.5,2089.9" fill="#0d55ff"/>
<line x1="1463.4" y1="2420.4" x2="1463.4" y2="2546.2" stroke="#111" stroke-width="3.0"/><polygon points="1463.4,2554.5 1453.7,2538.0 1463.4,2538.0 1473.2,2538.0" fill="#111"/>
</g>
</g>
</svg>
</body>
</html>
